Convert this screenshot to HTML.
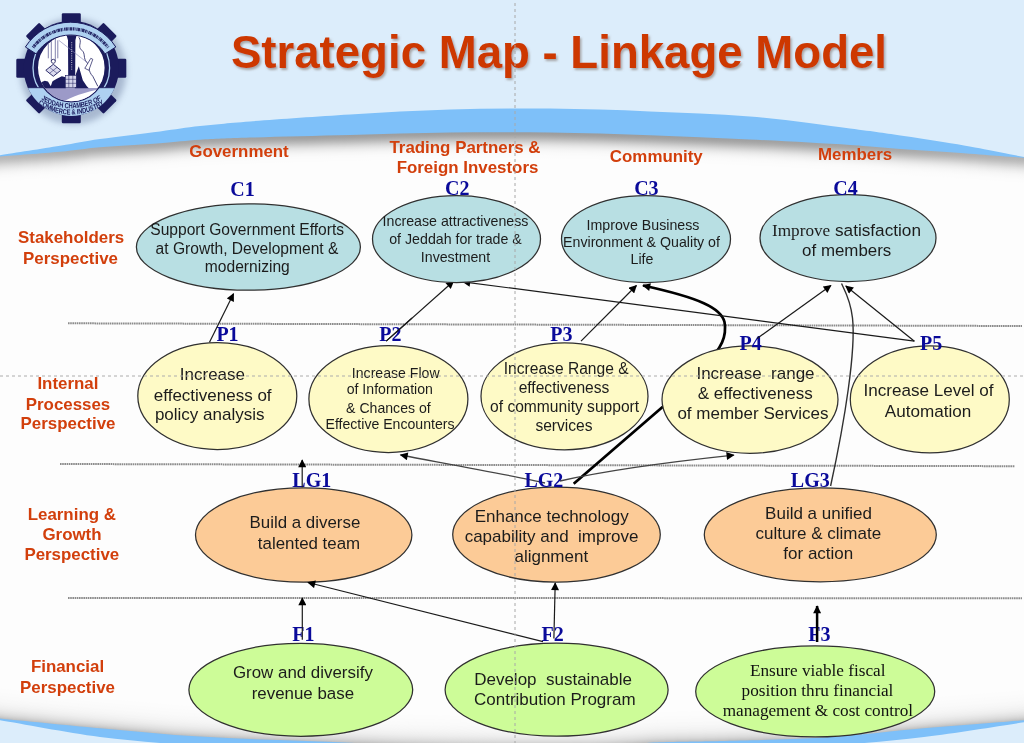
<!DOCTYPE html>
<html><head><meta charset="utf-8"><title>Strategic Map - Linkage Model</title>
<style>
html,body{margin:0;padding:0;background:#fff;width:1024px;height:743px;overflow:hidden}
svg{display:block;will-change:transform}
svg{font-family:"Liberation Sans",sans-serif}
</style></head><body>
<svg width="1024" height="743" viewBox="0 0 1024 743">
<defs>
 <linearGradient id="topShadow" x1="0" y1="0" x2="0" y2="1">
  <stop offset="0" stop-color="#9a9a9a" stop-opacity="0.75"/>
  <stop offset="0.35" stop-color="#c8c8c8" stop-opacity="0.5"/>
  <stop offset="1" stop-color="#ffffff" stop-opacity="0"/>
 </linearGradient>
 <linearGradient id="botShadow" x1="0" y1="0" x2="0" y2="1">
  <stop offset="0" stop-color="#ffffff" stop-opacity="0"/>
  <stop offset="0.6" stop-color="#c8c8c8" stop-opacity="0.6"/>
  <stop offset="1" stop-color="#8a8a8a" stop-opacity="0.9"/>
 </linearGradient>
 <filter id="blur3" x="-30%" y="-30%" width="160%" height="160%"><feGaussianBlur stdDeviation="3"/></filter>
 <filter id="blur2" x="-20%" y="-20%" width="140%" height="140%"><feGaussianBlur stdDeviation="2"/></filter>
 <filter id="tshadow" x="-5%" y="-20%" width="110%" height="150%"><feDropShadow dx="1.5" dy="2" stdDeviation="1.2" flood-color="#7a6a60" flood-opacity="0.55"/></filter>
 <marker id="ah" viewBox="0 0 10 10" refX="9" refY="5" markerWidth="9" markerHeight="8" markerUnits="userSpaceOnUse" orient="auto"><path d="M0,0 L10,5 L0,10 z" fill="#000"/></marker>
 <marker id="ahg" viewBox="0 0 10 10" refX="9" refY="5" markerWidth="9" markerHeight="8" markerUnits="userSpaceOnUse" orient="auto"><path d="M0,0 L10,5 L0,10 z" fill="#111"/></marker>
</defs>

<rect x="0" y="0" width="1024" height="743" fill="#fdfdfd"/>
<path d="M-20.00,188.00 C-13.33,187.47 -13.33,187.45 0.00,186.40 C13.33,185.35 43.33,183.23 60.00,181.70 C76.67,180.17 83.33,178.62 100.00,177.20 C116.67,175.78 143.33,174.43 160.00,173.20 C176.67,171.97 185.00,170.73 200.00,169.80 C215.00,168.87 225.00,168.40 250.00,167.60 C275.00,166.80 316.67,165.85 350.00,165.00 C383.33,164.15 416.67,162.90 450.00,162.50 C483.33,162.10 516.67,162.15 550.00,162.60 C583.33,163.05 616.67,164.05 650.00,165.20 C683.33,166.35 716.67,167.87 750.00,169.50 C783.33,171.13 824.33,173.37 850.00,175.00 C875.67,176.63 885.00,177.93 904.00,179.30 C923.00,180.67 948.00,182.07 964.00,183.20 C980.00,184.33 990.00,185.33 1000.00,186.10 C1010.00,186.87 1016.67,187.15 1024.00,187.80 C1031.33,188.45 1037.33,189.27 1044.00,190.00 L1044,0 L-20,0 Z" fill="url(#sg30)"/>
<path d="M-20.00,187.00 C-13.33,186.47 -13.33,186.45 0.00,185.40 C13.33,184.35 43.33,182.23 60.00,180.70 C76.67,179.17 83.33,177.62 100.00,176.20 C116.67,174.78 143.33,173.43 160.00,172.20 C176.67,170.97 185.00,169.73 200.00,168.80 C215.00,167.87 225.00,167.40 250.00,166.60 C275.00,165.80 316.67,164.85 350.00,164.00 C383.33,163.15 416.67,161.90 450.00,161.50 C483.33,161.10 516.67,161.15 550.00,161.60 C583.33,162.05 616.67,163.05 650.00,164.20 C683.33,165.35 716.67,166.87 750.00,168.50 C783.33,170.13 824.33,172.37 850.00,174.00 C875.67,175.63 885.00,176.93 904.00,178.30 C923.00,179.67 948.00,181.07 964.00,182.20 C980.00,183.33 990.00,184.33 1000.00,185.10 C1010.00,185.87 1016.67,186.15 1024.00,186.80 C1031.33,187.45 1037.33,188.27 1044.00,189.00 L1044,0 L-20,0 Z" fill="url(#sg29)"/>
<path d="M-20.00,186.00 C-13.33,185.47 -13.33,185.45 0.00,184.40 C13.33,183.35 43.33,181.23 60.00,179.70 C76.67,178.17 83.33,176.62 100.00,175.20 C116.67,173.78 143.33,172.43 160.00,171.20 C176.67,169.97 185.00,168.73 200.00,167.80 C215.00,166.87 225.00,166.40 250.00,165.60 C275.00,164.80 316.67,163.85 350.00,163.00 C383.33,162.15 416.67,160.90 450.00,160.50 C483.33,160.10 516.67,160.15 550.00,160.60 C583.33,161.05 616.67,162.05 650.00,163.20 C683.33,164.35 716.67,165.87 750.00,167.50 C783.33,169.13 824.33,171.37 850.00,173.00 C875.67,174.63 885.00,175.93 904.00,177.30 C923.00,178.67 948.00,180.07 964.00,181.20 C980.00,182.33 990.00,183.33 1000.00,184.10 C1010.00,184.87 1016.67,185.15 1024.00,185.80 C1031.33,186.45 1037.33,187.27 1044.00,188.00 L1044,0 L-20,0 Z" fill="url(#sg28)"/>
<path d="M-20.00,185.00 C-13.33,184.47 -13.33,184.45 0.00,183.40 C13.33,182.35 43.33,180.23 60.00,178.70 C76.67,177.17 83.33,175.62 100.00,174.20 C116.67,172.78 143.33,171.43 160.00,170.20 C176.67,168.97 185.00,167.73 200.00,166.80 C215.00,165.87 225.00,165.40 250.00,164.60 C275.00,163.80 316.67,162.85 350.00,162.00 C383.33,161.15 416.67,159.90 450.00,159.50 C483.33,159.10 516.67,159.15 550.00,159.60 C583.33,160.05 616.67,161.05 650.00,162.20 C683.33,163.35 716.67,164.87 750.00,166.50 C783.33,168.13 824.33,170.37 850.00,172.00 C875.67,173.63 885.00,174.93 904.00,176.30 C923.00,177.67 948.00,179.07 964.00,180.20 C980.00,181.33 990.00,182.33 1000.00,183.10 C1010.00,183.87 1016.67,184.15 1024.00,184.80 C1031.33,185.45 1037.33,186.27 1044.00,187.00 L1044,0 L-20,0 Z" fill="url(#sg27)"/>
<path d="M-20.00,184.00 C-13.33,183.47 -13.33,183.45 0.00,182.40 C13.33,181.35 43.33,179.23 60.00,177.70 C76.67,176.17 83.33,174.62 100.00,173.20 C116.67,171.78 143.33,170.43 160.00,169.20 C176.67,167.97 185.00,166.73 200.00,165.80 C215.00,164.87 225.00,164.40 250.00,163.60 C275.00,162.80 316.67,161.85 350.00,161.00 C383.33,160.15 416.67,158.90 450.00,158.50 C483.33,158.10 516.67,158.15 550.00,158.60 C583.33,159.05 616.67,160.05 650.00,161.20 C683.33,162.35 716.67,163.87 750.00,165.50 C783.33,167.13 824.33,169.37 850.00,171.00 C875.67,172.63 885.00,173.93 904.00,175.30 C923.00,176.67 948.00,178.07 964.00,179.20 C980.00,180.33 990.00,181.33 1000.00,182.10 C1010.00,182.87 1016.67,183.15 1024.00,183.80 C1031.33,184.45 1037.33,185.27 1044.00,186.00 L1044,0 L-20,0 Z" fill="url(#sg26)"/>
<path d="M-20.00,183.00 C-13.33,182.47 -13.33,182.45 0.00,181.40 C13.33,180.35 43.33,178.23 60.00,176.70 C76.67,175.17 83.33,173.62 100.00,172.20 C116.67,170.78 143.33,169.43 160.00,168.20 C176.67,166.97 185.00,165.73 200.00,164.80 C215.00,163.87 225.00,163.40 250.00,162.60 C275.00,161.80 316.67,160.85 350.00,160.00 C383.33,159.15 416.67,157.90 450.00,157.50 C483.33,157.10 516.67,157.15 550.00,157.60 C583.33,158.05 616.67,159.05 650.00,160.20 C683.33,161.35 716.67,162.87 750.00,164.50 C783.33,166.13 824.33,168.37 850.00,170.00 C875.67,171.63 885.00,172.93 904.00,174.30 C923.00,175.67 948.00,177.07 964.00,178.20 C980.00,179.33 990.00,180.33 1000.00,181.10 C1010.00,181.87 1016.67,182.15 1024.00,182.80 C1031.33,183.45 1037.33,184.27 1044.00,185.00 L1044,0 L-20,0 Z" fill="url(#sg25)"/>
<path d="M-20.00,182.00 C-13.33,181.47 -13.33,181.45 0.00,180.40 C13.33,179.35 43.33,177.23 60.00,175.70 C76.67,174.17 83.33,172.62 100.00,171.20 C116.67,169.78 143.33,168.43 160.00,167.20 C176.67,165.97 185.00,164.73 200.00,163.80 C215.00,162.87 225.00,162.40 250.00,161.60 C275.00,160.80 316.67,159.85 350.00,159.00 C383.33,158.15 416.67,156.90 450.00,156.50 C483.33,156.10 516.67,156.15 550.00,156.60 C583.33,157.05 616.67,158.05 650.00,159.20 C683.33,160.35 716.67,161.87 750.00,163.50 C783.33,165.13 824.33,167.37 850.00,169.00 C875.67,170.63 885.00,171.93 904.00,173.30 C923.00,174.67 948.00,176.07 964.00,177.20 C980.00,178.33 990.00,179.33 1000.00,180.10 C1010.00,180.87 1016.67,181.15 1024.00,181.80 C1031.33,182.45 1037.33,183.27 1044.00,184.00 L1044,0 L-20,0 Z" fill="url(#sg24)"/>
<path d="M-20.00,181.00 C-13.33,180.47 -13.33,180.45 0.00,179.40 C13.33,178.35 43.33,176.23 60.00,174.70 C76.67,173.17 83.33,171.62 100.00,170.20 C116.67,168.78 143.33,167.43 160.00,166.20 C176.67,164.97 185.00,163.73 200.00,162.80 C215.00,161.87 225.00,161.40 250.00,160.60 C275.00,159.80 316.67,158.85 350.00,158.00 C383.33,157.15 416.67,155.90 450.00,155.50 C483.33,155.10 516.67,155.15 550.00,155.60 C583.33,156.05 616.67,157.05 650.00,158.20 C683.33,159.35 716.67,160.87 750.00,162.50 C783.33,164.13 824.33,166.37 850.00,168.00 C875.67,169.63 885.00,170.93 904.00,172.30 C923.00,173.67 948.00,175.07 964.00,176.20 C980.00,177.33 990.00,178.33 1000.00,179.10 C1010.00,179.87 1016.67,180.15 1024.00,180.80 C1031.33,181.45 1037.33,182.27 1044.00,183.00 L1044,0 L-20,0 Z" fill="url(#sg23)"/>
<path d="M-20.00,180.00 C-13.33,179.47 -13.33,179.45 0.00,178.40 C13.33,177.35 43.33,175.23 60.00,173.70 C76.67,172.17 83.33,170.62 100.00,169.20 C116.67,167.78 143.33,166.43 160.00,165.20 C176.67,163.97 185.00,162.73 200.00,161.80 C215.00,160.87 225.00,160.40 250.00,159.60 C275.00,158.80 316.67,157.85 350.00,157.00 C383.33,156.15 416.67,154.90 450.00,154.50 C483.33,154.10 516.67,154.15 550.00,154.60 C583.33,155.05 616.67,156.05 650.00,157.20 C683.33,158.35 716.67,159.87 750.00,161.50 C783.33,163.13 824.33,165.37 850.00,167.00 C875.67,168.63 885.00,169.93 904.00,171.30 C923.00,172.67 948.00,174.07 964.00,175.20 C980.00,176.33 990.00,177.33 1000.00,178.10 C1010.00,178.87 1016.67,179.15 1024.00,179.80 C1031.33,180.45 1037.33,181.27 1044.00,182.00 L1044,0 L-20,0 Z" fill="url(#sg22)"/>
<path d="M-20.00,179.00 C-13.33,178.47 -13.33,178.45 0.00,177.40 C13.33,176.35 43.33,174.23 60.00,172.70 C76.67,171.17 83.33,169.62 100.00,168.20 C116.67,166.78 143.33,165.43 160.00,164.20 C176.67,162.97 185.00,161.73 200.00,160.80 C215.00,159.87 225.00,159.40 250.00,158.60 C275.00,157.80 316.67,156.85 350.00,156.00 C383.33,155.15 416.67,153.90 450.00,153.50 C483.33,153.10 516.67,153.15 550.00,153.60 C583.33,154.05 616.67,155.05 650.00,156.20 C683.33,157.35 716.67,158.87 750.00,160.50 C783.33,162.13 824.33,164.37 850.00,166.00 C875.67,167.63 885.00,168.93 904.00,170.30 C923.00,171.67 948.00,173.07 964.00,174.20 C980.00,175.33 990.00,176.33 1000.00,177.10 C1010.00,177.87 1016.67,178.15 1024.00,178.80 C1031.33,179.45 1037.33,180.27 1044.00,181.00 L1044,0 L-20,0 Z" fill="url(#sg21)"/>
<path d="M-20.00,178.00 C-13.33,177.47 -13.33,177.45 0.00,176.40 C13.33,175.35 43.33,173.23 60.00,171.70 C76.67,170.17 83.33,168.62 100.00,167.20 C116.67,165.78 143.33,164.43 160.00,163.20 C176.67,161.97 185.00,160.73 200.00,159.80 C215.00,158.87 225.00,158.40 250.00,157.60 C275.00,156.80 316.67,155.85 350.00,155.00 C383.33,154.15 416.67,152.90 450.00,152.50 C483.33,152.10 516.67,152.15 550.00,152.60 C583.33,153.05 616.67,154.05 650.00,155.20 C683.33,156.35 716.67,157.87 750.00,159.50 C783.33,161.13 824.33,163.37 850.00,165.00 C875.67,166.63 885.00,167.93 904.00,169.30 C923.00,170.67 948.00,172.07 964.00,173.20 C980.00,174.33 990.00,175.33 1000.00,176.10 C1010.00,176.87 1016.67,177.15 1024.00,177.80 C1031.33,178.45 1037.33,179.27 1044.00,180.00 L1044,0 L-20,0 Z" fill="url(#sg20)"/>
<path d="M-20.00,177.00 C-13.33,176.47 -13.33,176.45 0.00,175.40 C13.33,174.35 43.33,172.23 60.00,170.70 C76.67,169.17 83.33,167.62 100.00,166.20 C116.67,164.78 143.33,163.43 160.00,162.20 C176.67,160.97 185.00,159.73 200.00,158.80 C215.00,157.87 225.00,157.40 250.00,156.60 C275.00,155.80 316.67,154.85 350.00,154.00 C383.33,153.15 416.67,151.90 450.00,151.50 C483.33,151.10 516.67,151.15 550.00,151.60 C583.33,152.05 616.67,153.05 650.00,154.20 C683.33,155.35 716.67,156.87 750.00,158.50 C783.33,160.13 824.33,162.37 850.00,164.00 C875.67,165.63 885.00,166.93 904.00,168.30 C923.00,169.67 948.00,171.07 964.00,172.20 C980.00,173.33 990.00,174.33 1000.00,175.10 C1010.00,175.87 1016.67,176.15 1024.00,176.80 C1031.33,177.45 1037.33,178.27 1044.00,179.00 L1044,0 L-20,0 Z" fill="url(#sg19)"/>
<path d="M-20.00,176.00 C-13.33,175.47 -13.33,175.45 0.00,174.40 C13.33,173.35 43.33,171.23 60.00,169.70 C76.67,168.17 83.33,166.62 100.00,165.20 C116.67,163.78 143.33,162.43 160.00,161.20 C176.67,159.97 185.00,158.73 200.00,157.80 C215.00,156.87 225.00,156.40 250.00,155.60 C275.00,154.80 316.67,153.85 350.00,153.00 C383.33,152.15 416.67,150.90 450.00,150.50 C483.33,150.10 516.67,150.15 550.00,150.60 C583.33,151.05 616.67,152.05 650.00,153.20 C683.33,154.35 716.67,155.87 750.00,157.50 C783.33,159.13 824.33,161.37 850.00,163.00 C875.67,164.63 885.00,165.93 904.00,167.30 C923.00,168.67 948.00,170.07 964.00,171.20 C980.00,172.33 990.00,173.33 1000.00,174.10 C1010.00,174.87 1016.67,175.15 1024.00,175.80 C1031.33,176.45 1037.33,177.27 1044.00,178.00 L1044,0 L-20,0 Z" fill="url(#sg18)"/>
<path d="M-20.00,175.00 C-13.33,174.47 -13.33,174.45 0.00,173.40 C13.33,172.35 43.33,170.23 60.00,168.70 C76.67,167.17 83.33,165.62 100.00,164.20 C116.67,162.78 143.33,161.43 160.00,160.20 C176.67,158.97 185.00,157.73 200.00,156.80 C215.00,155.87 225.00,155.40 250.00,154.60 C275.00,153.80 316.67,152.85 350.00,152.00 C383.33,151.15 416.67,149.90 450.00,149.50 C483.33,149.10 516.67,149.15 550.00,149.60 C583.33,150.05 616.67,151.05 650.00,152.20 C683.33,153.35 716.67,154.87 750.00,156.50 C783.33,158.13 824.33,160.37 850.00,162.00 C875.67,163.63 885.00,164.93 904.00,166.30 C923.00,167.67 948.00,169.07 964.00,170.20 C980.00,171.33 990.00,172.33 1000.00,173.10 C1010.00,173.87 1016.67,174.15 1024.00,174.80 C1031.33,175.45 1037.33,176.27 1044.00,177.00 L1044,0 L-20,0 Z" fill="url(#sg17)"/>
<path d="M-20.00,174.00 C-13.33,173.47 -13.33,173.45 0.00,172.40 C13.33,171.35 43.33,169.23 60.00,167.70 C76.67,166.17 83.33,164.62 100.00,163.20 C116.67,161.78 143.33,160.43 160.00,159.20 C176.67,157.97 185.00,156.73 200.00,155.80 C215.00,154.87 225.00,154.40 250.00,153.60 C275.00,152.80 316.67,151.85 350.00,151.00 C383.33,150.15 416.67,148.90 450.00,148.50 C483.33,148.10 516.67,148.15 550.00,148.60 C583.33,149.05 616.67,150.05 650.00,151.20 C683.33,152.35 716.67,153.87 750.00,155.50 C783.33,157.13 824.33,159.37 850.00,161.00 C875.67,162.63 885.00,163.93 904.00,165.30 C923.00,166.67 948.00,168.07 964.00,169.20 C980.00,170.33 990.00,171.33 1000.00,172.10 C1010.00,172.87 1016.67,173.15 1024.00,173.80 C1031.33,174.45 1037.33,175.27 1044.00,176.00 L1044,0 L-20,0 Z" fill="url(#sg16)"/>
<path d="M-20.00,173.00 C-13.33,172.47 -13.33,172.45 0.00,171.40 C13.33,170.35 43.33,168.23 60.00,166.70 C76.67,165.17 83.33,163.62 100.00,162.20 C116.67,160.78 143.33,159.43 160.00,158.20 C176.67,156.97 185.00,155.73 200.00,154.80 C215.00,153.87 225.00,153.40 250.00,152.60 C275.00,151.80 316.67,150.85 350.00,150.00 C383.33,149.15 416.67,147.90 450.00,147.50 C483.33,147.10 516.67,147.15 550.00,147.60 C583.33,148.05 616.67,149.05 650.00,150.20 C683.33,151.35 716.67,152.87 750.00,154.50 C783.33,156.13 824.33,158.37 850.00,160.00 C875.67,161.63 885.00,162.93 904.00,164.30 C923.00,165.67 948.00,167.07 964.00,168.20 C980.00,169.33 990.00,170.33 1000.00,171.10 C1010.00,171.87 1016.67,172.15 1024.00,172.80 C1031.33,173.45 1037.33,174.27 1044.00,175.00 L1044,0 L-20,0 Z" fill="url(#sg15)"/>
<path d="M-20.00,172.00 C-13.33,171.47 -13.33,171.45 0.00,170.40 C13.33,169.35 43.33,167.23 60.00,165.70 C76.67,164.17 83.33,162.62 100.00,161.20 C116.67,159.78 143.33,158.43 160.00,157.20 C176.67,155.97 185.00,154.73 200.00,153.80 C215.00,152.87 225.00,152.40 250.00,151.60 C275.00,150.80 316.67,149.85 350.00,149.00 C383.33,148.15 416.67,146.90 450.00,146.50 C483.33,146.10 516.67,146.15 550.00,146.60 C583.33,147.05 616.67,148.05 650.00,149.20 C683.33,150.35 716.67,151.87 750.00,153.50 C783.33,155.13 824.33,157.37 850.00,159.00 C875.67,160.63 885.00,161.93 904.00,163.30 C923.00,164.67 948.00,166.07 964.00,167.20 C980.00,168.33 990.00,169.33 1000.00,170.10 C1010.00,170.87 1016.67,171.15 1024.00,171.80 C1031.33,172.45 1037.33,173.27 1044.00,174.00 L1044,0 L-20,0 Z" fill="url(#sg14)"/>
<path d="M-20.00,171.00 C-13.33,170.47 -13.33,170.45 0.00,169.40 C13.33,168.35 43.33,166.23 60.00,164.70 C76.67,163.17 83.33,161.62 100.00,160.20 C116.67,158.78 143.33,157.43 160.00,156.20 C176.67,154.97 185.00,153.73 200.00,152.80 C215.00,151.87 225.00,151.40 250.00,150.60 C275.00,149.80 316.67,148.85 350.00,148.00 C383.33,147.15 416.67,145.90 450.00,145.50 C483.33,145.10 516.67,145.15 550.00,145.60 C583.33,146.05 616.67,147.05 650.00,148.20 C683.33,149.35 716.67,150.87 750.00,152.50 C783.33,154.13 824.33,156.37 850.00,158.00 C875.67,159.63 885.00,160.93 904.00,162.30 C923.00,163.67 948.00,165.07 964.00,166.20 C980.00,167.33 990.00,168.33 1000.00,169.10 C1010.00,169.87 1016.67,170.15 1024.00,170.80 C1031.33,171.45 1037.33,172.27 1044.00,173.00 L1044,0 L-20,0 Z" fill="url(#sg13)"/>
<path d="M-20.00,170.00 C-13.33,169.47 -13.33,169.45 0.00,168.40 C13.33,167.35 43.33,165.23 60.00,163.70 C76.67,162.17 83.33,160.62 100.00,159.20 C116.67,157.78 143.33,156.43 160.00,155.20 C176.67,153.97 185.00,152.73 200.00,151.80 C215.00,150.87 225.00,150.40 250.00,149.60 C275.00,148.80 316.67,147.85 350.00,147.00 C383.33,146.15 416.67,144.90 450.00,144.50 C483.33,144.10 516.67,144.15 550.00,144.60 C583.33,145.05 616.67,146.05 650.00,147.20 C683.33,148.35 716.67,149.87 750.00,151.50 C783.33,153.13 824.33,155.37 850.00,157.00 C875.67,158.63 885.00,159.93 904.00,161.30 C923.00,162.67 948.00,164.07 964.00,165.20 C980.00,166.33 990.00,167.33 1000.00,168.10 C1010.00,168.87 1016.67,169.15 1024.00,169.80 C1031.33,170.45 1037.33,171.27 1044.00,172.00 L1044,0 L-20,0 Z" fill="url(#sg12)"/>
<path d="M-20.00,169.00 C-13.33,168.47 -13.33,168.45 0.00,167.40 C13.33,166.35 43.33,164.23 60.00,162.70 C76.67,161.17 83.33,159.62 100.00,158.20 C116.67,156.78 143.33,155.43 160.00,154.20 C176.67,152.97 185.00,151.73 200.00,150.80 C215.00,149.87 225.00,149.40 250.00,148.60 C275.00,147.80 316.67,146.85 350.00,146.00 C383.33,145.15 416.67,143.90 450.00,143.50 C483.33,143.10 516.67,143.15 550.00,143.60 C583.33,144.05 616.67,145.05 650.00,146.20 C683.33,147.35 716.67,148.87 750.00,150.50 C783.33,152.13 824.33,154.37 850.00,156.00 C875.67,157.63 885.00,158.93 904.00,160.30 C923.00,161.67 948.00,163.07 964.00,164.20 C980.00,165.33 990.00,166.33 1000.00,167.10 C1010.00,167.87 1016.67,168.15 1024.00,168.80 C1031.33,169.45 1037.33,170.27 1044.00,171.00 L1044,0 L-20,0 Z" fill="url(#sg11)"/>
<path d="M-20.00,168.00 C-13.33,167.47 -13.33,167.45 0.00,166.40 C13.33,165.35 43.33,163.23 60.00,161.70 C76.67,160.17 83.33,158.62 100.00,157.20 C116.67,155.78 143.33,154.43 160.00,153.20 C176.67,151.97 185.00,150.73 200.00,149.80 C215.00,148.87 225.00,148.40 250.00,147.60 C275.00,146.80 316.67,145.85 350.00,145.00 C383.33,144.15 416.67,142.90 450.00,142.50 C483.33,142.10 516.67,142.15 550.00,142.60 C583.33,143.05 616.67,144.05 650.00,145.20 C683.33,146.35 716.67,147.87 750.00,149.50 C783.33,151.13 824.33,153.37 850.00,155.00 C875.67,156.63 885.00,157.93 904.00,159.30 C923.00,160.67 948.00,162.07 964.00,163.20 C980.00,164.33 990.00,165.33 1000.00,166.10 C1010.00,166.87 1016.67,167.15 1024.00,167.80 C1031.33,168.45 1037.33,169.27 1044.00,170.00 L1044,0 L-20,0 Z" fill="url(#sg10)"/>
<path d="M-20.00,167.00 C-13.33,166.47 -13.33,166.45 0.00,165.40 C13.33,164.35 43.33,162.23 60.00,160.70 C76.67,159.17 83.33,157.62 100.00,156.20 C116.67,154.78 143.33,153.43 160.00,152.20 C176.67,150.97 185.00,149.73 200.00,148.80 C215.00,147.87 225.00,147.40 250.00,146.60 C275.00,145.80 316.67,144.85 350.00,144.00 C383.33,143.15 416.67,141.90 450.00,141.50 C483.33,141.10 516.67,141.15 550.00,141.60 C583.33,142.05 616.67,143.05 650.00,144.20 C683.33,145.35 716.67,146.87 750.00,148.50 C783.33,150.13 824.33,152.37 850.00,154.00 C875.67,155.63 885.00,156.93 904.00,158.30 C923.00,159.67 948.00,161.07 964.00,162.20 C980.00,163.33 990.00,164.33 1000.00,165.10 C1010.00,165.87 1016.67,166.15 1024.00,166.80 C1031.33,167.45 1037.33,168.27 1044.00,169.00 L1044,0 L-20,0 Z" fill="url(#sg9)"/>
<path d="M-20.00,166.00 C-13.33,165.47 -13.33,165.45 0.00,164.40 C13.33,163.35 43.33,161.23 60.00,159.70 C76.67,158.17 83.33,156.62 100.00,155.20 C116.67,153.78 143.33,152.43 160.00,151.20 C176.67,149.97 185.00,148.73 200.00,147.80 C215.00,146.87 225.00,146.40 250.00,145.60 C275.00,144.80 316.67,143.85 350.00,143.00 C383.33,142.15 416.67,140.90 450.00,140.50 C483.33,140.10 516.67,140.15 550.00,140.60 C583.33,141.05 616.67,142.05 650.00,143.20 C683.33,144.35 716.67,145.87 750.00,147.50 C783.33,149.13 824.33,151.37 850.00,153.00 C875.67,154.63 885.00,155.93 904.00,157.30 C923.00,158.67 948.00,160.07 964.00,161.20 C980.00,162.33 990.00,163.33 1000.00,164.10 C1010.00,164.87 1016.67,165.15 1024.00,165.80 C1031.33,166.45 1037.33,167.27 1044.00,168.00 L1044,0 L-20,0 Z" fill="url(#sg8)"/>
<path d="M-20.00,165.00 C-13.33,164.47 -13.33,164.45 0.00,163.40 C13.33,162.35 43.33,160.23 60.00,158.70 C76.67,157.17 83.33,155.62 100.00,154.20 C116.67,152.78 143.33,151.43 160.00,150.20 C176.67,148.97 185.00,147.73 200.00,146.80 C215.00,145.87 225.00,145.40 250.00,144.60 C275.00,143.80 316.67,142.85 350.00,142.00 C383.33,141.15 416.67,139.90 450.00,139.50 C483.33,139.10 516.67,139.15 550.00,139.60 C583.33,140.05 616.67,141.05 650.00,142.20 C683.33,143.35 716.67,144.87 750.00,146.50 C783.33,148.13 824.33,150.37 850.00,152.00 C875.67,153.63 885.00,154.93 904.00,156.30 C923.00,157.67 948.00,159.07 964.00,160.20 C980.00,161.33 990.00,162.33 1000.00,163.10 C1010.00,163.87 1016.67,164.15 1024.00,164.80 C1031.33,165.45 1037.33,166.27 1044.00,167.00 L1044,0 L-20,0 Z" fill="url(#sg7)"/>
<path d="M-20.00,164.00 C-13.33,163.47 -13.33,163.45 0.00,162.40 C13.33,161.35 43.33,159.23 60.00,157.70 C76.67,156.17 83.33,154.62 100.00,153.20 C116.67,151.78 143.33,150.43 160.00,149.20 C176.67,147.97 185.00,146.73 200.00,145.80 C215.00,144.87 225.00,144.40 250.00,143.60 C275.00,142.80 316.67,141.85 350.00,141.00 C383.33,140.15 416.67,138.90 450.00,138.50 C483.33,138.10 516.67,138.15 550.00,138.60 C583.33,139.05 616.67,140.05 650.00,141.20 C683.33,142.35 716.67,143.87 750.00,145.50 C783.33,147.13 824.33,149.37 850.00,151.00 C875.67,152.63 885.00,153.93 904.00,155.30 C923.00,156.67 948.00,158.07 964.00,159.20 C980.00,160.33 990.00,161.33 1000.00,162.10 C1010.00,162.87 1016.67,163.15 1024.00,163.80 C1031.33,164.45 1037.33,165.27 1044.00,166.00 L1044,0 L-20,0 Z" fill="url(#sg6)"/>
<path d="M-20.00,163.00 C-13.33,162.47 -13.33,162.45 0.00,161.40 C13.33,160.35 43.33,158.23 60.00,156.70 C76.67,155.17 83.33,153.62 100.00,152.20 C116.67,150.78 143.33,149.43 160.00,148.20 C176.67,146.97 185.00,145.73 200.00,144.80 C215.00,143.87 225.00,143.40 250.00,142.60 C275.00,141.80 316.67,140.85 350.00,140.00 C383.33,139.15 416.67,137.90 450.00,137.50 C483.33,137.10 516.67,137.15 550.00,137.60 C583.33,138.05 616.67,139.05 650.00,140.20 C683.33,141.35 716.67,142.87 750.00,144.50 C783.33,146.13 824.33,148.37 850.00,150.00 C875.67,151.63 885.00,152.93 904.00,154.30 C923.00,155.67 948.00,157.07 964.00,158.20 C980.00,159.33 990.00,160.33 1000.00,161.10 C1010.00,161.87 1016.67,162.15 1024.00,162.80 C1031.33,163.45 1037.33,164.27 1044.00,165.00 L1044,0 L-20,0 Z" fill="url(#sg5)"/>
<path d="M-20.00,162.00 C-13.33,161.47 -13.33,161.45 0.00,160.40 C13.33,159.35 43.33,157.23 60.00,155.70 C76.67,154.17 83.33,152.62 100.00,151.20 C116.67,149.78 143.33,148.43 160.00,147.20 C176.67,145.97 185.00,144.73 200.00,143.80 C215.00,142.87 225.00,142.40 250.00,141.60 C275.00,140.80 316.67,139.85 350.00,139.00 C383.33,138.15 416.67,136.90 450.00,136.50 C483.33,136.10 516.67,136.15 550.00,136.60 C583.33,137.05 616.67,138.05 650.00,139.20 C683.33,140.35 716.67,141.87 750.00,143.50 C783.33,145.13 824.33,147.37 850.00,149.00 C875.67,150.63 885.00,151.93 904.00,153.30 C923.00,154.67 948.00,156.07 964.00,157.20 C980.00,158.33 990.00,159.33 1000.00,160.10 C1010.00,160.87 1016.67,161.15 1024.00,161.80 C1031.33,162.45 1037.33,163.27 1044.00,164.00 L1044,0 L-20,0 Z" fill="url(#sg4)"/>
<path d="M-20.00,161.00 C-13.33,160.47 -13.33,160.45 0.00,159.40 C13.33,158.35 43.33,156.23 60.00,154.70 C76.67,153.17 83.33,151.62 100.00,150.20 C116.67,148.78 143.33,147.43 160.00,146.20 C176.67,144.97 185.00,143.73 200.00,142.80 C215.00,141.87 225.00,141.40 250.00,140.60 C275.00,139.80 316.67,138.85 350.00,138.00 C383.33,137.15 416.67,135.90 450.00,135.50 C483.33,135.10 516.67,135.15 550.00,135.60 C583.33,136.05 616.67,137.05 650.00,138.20 C683.33,139.35 716.67,140.87 750.00,142.50 C783.33,144.13 824.33,146.37 850.00,148.00 C875.67,149.63 885.00,150.93 904.00,152.30 C923.00,153.67 948.00,155.07 964.00,156.20 C980.00,157.33 990.00,158.33 1000.00,159.10 C1010.00,159.87 1016.67,160.15 1024.00,160.80 C1031.33,161.45 1037.33,162.27 1044.00,163.00 L1044,0 L-20,0 Z" fill="url(#sg3)"/>
<path d="M-20.00,160.00 C-13.33,159.47 -13.33,159.45 0.00,158.40 C13.33,157.35 43.33,155.23 60.00,153.70 C76.67,152.17 83.33,150.62 100.00,149.20 C116.67,147.78 143.33,146.43 160.00,145.20 C176.67,143.97 185.00,142.73 200.00,141.80 C215.00,140.87 225.00,140.40 250.00,139.60 C275.00,138.80 316.67,137.85 350.00,137.00 C383.33,136.15 416.67,134.90 450.00,134.50 C483.33,134.10 516.67,134.15 550.00,134.60 C583.33,135.05 616.67,136.05 650.00,137.20 C683.33,138.35 716.67,139.87 750.00,141.50 C783.33,143.13 824.33,145.37 850.00,147.00 C875.67,148.63 885.00,149.93 904.00,151.30 C923.00,152.67 948.00,154.07 964.00,155.20 C980.00,156.33 990.00,157.33 1000.00,158.10 C1010.00,158.87 1016.67,159.15 1024.00,159.80 C1031.33,160.45 1037.33,161.27 1044.00,162.00 L1044,0 L-20,0 Z" fill="url(#sg2)"/>
<path d="M-20.00,159.00 C-13.33,158.47 -13.33,158.45 0.00,157.40 C13.33,156.35 43.33,154.23 60.00,152.70 C76.67,151.17 83.33,149.62 100.00,148.20 C116.67,146.78 143.33,145.43 160.00,144.20 C176.67,142.97 185.00,141.73 200.00,140.80 C215.00,139.87 225.00,139.40 250.00,138.60 C275.00,137.80 316.67,136.85 350.00,136.00 C383.33,135.15 416.67,133.90 450.00,133.50 C483.33,133.10 516.67,133.15 550.00,133.60 C583.33,134.05 616.67,135.05 650.00,136.20 C683.33,137.35 716.67,138.87 750.00,140.50 C783.33,142.13 824.33,144.37 850.00,146.00 C875.67,147.63 885.00,148.93 904.00,150.30 C923.00,151.67 948.00,153.07 964.00,154.20 C980.00,155.33 990.00,156.33 1000.00,157.10 C1010.00,157.87 1016.67,158.15 1024.00,158.80 C1031.33,159.45 1037.33,160.27 1044.00,161.00 L1044,0 L-20,0 Z" fill="url(#sg1)"/>
<path d="M-20.00,158.00 C-13.33,157.47 -13.33,157.45 0.00,156.40 C13.33,155.35 43.33,153.23 60.00,151.70 C76.67,150.17 83.33,148.62 100.00,147.20 C116.67,145.78 143.33,144.43 160.00,143.20 C176.67,141.97 185.00,140.73 200.00,139.80 C215.00,138.87 225.00,138.40 250.00,137.60 C275.00,136.80 316.67,135.85 350.00,135.00 C383.33,134.15 416.67,132.90 450.00,132.50 C483.33,132.10 516.67,132.15 550.00,132.60 C583.33,133.05 616.67,134.05 650.00,135.20 C683.33,136.35 716.67,137.87 750.00,139.50 C783.33,141.13 824.33,143.37 850.00,145.00 C875.67,146.63 885.00,147.93 904.00,149.30 C923.00,150.67 948.00,152.07 964.00,153.20 C980.00,154.33 990.00,155.33 1000.00,156.10 C1010.00,156.87 1016.67,157.15 1024.00,157.80 C1031.33,158.45 1037.33,159.27 1044.00,160.00 L1044,0 L-20,0 Z" fill="url(#sg0)"/>
<defs><linearGradient id="sg30" gradientUnits="userSpaceOnUse" x1="0" y1="0" x2="1024" y2="0"><stop offset="0.000" stop-color="rgb(253,253,253)"/><stop offset="0.098" stop-color="rgb(253,253,253)"/><stop offset="0.293" stop-color="rgb(253,253,253)"/><stop offset="0.586" stop-color="rgb(253,253,253)"/><stop offset="0.830" stop-color="rgb(253,253,253)"/><stop offset="1.000" stop-color="rgb(253,253,253)"/></linearGradient><linearGradient id="sg29" gradientUnits="userSpaceOnUse" x1="0" y1="0" x2="1024" y2="0"><stop offset="0.000" stop-color="rgb(253,253,253)"/><stop offset="0.098" stop-color="rgb(253,253,253)"/><stop offset="0.293" stop-color="rgb(253,253,253)"/><stop offset="0.586" stop-color="rgb(253,253,253)"/><stop offset="0.830" stop-color="rgb(253,253,253)"/><stop offset="1.000" stop-color="rgb(253,253,253)"/></linearGradient><linearGradient id="sg28" gradientUnits="userSpaceOnUse" x1="0" y1="0" x2="1024" y2="0"><stop offset="0.000" stop-color="rgb(253,253,253)"/><stop offset="0.098" stop-color="rgb(253,253,253)"/><stop offset="0.293" stop-color="rgb(253,253,253)"/><stop offset="0.586" stop-color="rgb(253,253,253)"/><stop offset="0.830" stop-color="rgb(253,253,253)"/><stop offset="1.000" stop-color="rgb(253,253,253)"/></linearGradient><linearGradient id="sg27" gradientUnits="userSpaceOnUse" x1="0" y1="0" x2="1024" y2="0"><stop offset="0.000" stop-color="rgb(253,253,253)"/><stop offset="0.098" stop-color="rgb(253,253,253)"/><stop offset="0.293" stop-color="rgb(253,253,253)"/><stop offset="0.586" stop-color="rgb(253,253,253)"/><stop offset="0.830" stop-color="rgb(253,253,253)"/><stop offset="1.000" stop-color="rgb(253,253,253)"/></linearGradient><linearGradient id="sg26" gradientUnits="userSpaceOnUse" x1="0" y1="0" x2="1024" y2="0"><stop offset="0.000" stop-color="rgb(253,253,253)"/><stop offset="0.098" stop-color="rgb(252,252,252)"/><stop offset="0.293" stop-color="rgb(252,252,252)"/><stop offset="0.586" stop-color="rgb(252,252,252)"/><stop offset="0.830" stop-color="rgb(252,252,252)"/><stop offset="1.000" stop-color="rgb(253,253,253)"/></linearGradient><linearGradient id="sg25" gradientUnits="userSpaceOnUse" x1="0" y1="0" x2="1024" y2="0"><stop offset="0.000" stop-color="rgb(252,252,252)"/><stop offset="0.098" stop-color="rgb(252,252,252)"/><stop offset="0.293" stop-color="rgb(252,252,252)"/><stop offset="0.586" stop-color="rgb(252,252,252)"/><stop offset="0.830" stop-color="rgb(252,252,252)"/><stop offset="1.000" stop-color="rgb(252,252,252)"/></linearGradient><linearGradient id="sg24" gradientUnits="userSpaceOnUse" x1="0" y1="0" x2="1024" y2="0"><stop offset="0.000" stop-color="rgb(252,252,252)"/><stop offset="0.098" stop-color="rgb(252,252,252)"/><stop offset="0.293" stop-color="rgb(252,252,252)"/><stop offset="0.586" stop-color="rgb(252,252,252)"/><stop offset="0.830" stop-color="rgb(252,252,252)"/><stop offset="1.000" stop-color="rgb(252,252,252)"/></linearGradient><linearGradient id="sg23" gradientUnits="userSpaceOnUse" x1="0" y1="0" x2="1024" y2="0"><stop offset="0.000" stop-color="rgb(252,252,252)"/><stop offset="0.098" stop-color="rgb(251,251,251)"/><stop offset="0.293" stop-color="rgb(251,251,251)"/><stop offset="0.586" stop-color="rgb(251,251,251)"/><stop offset="0.830" stop-color="rgb(251,251,251)"/><stop offset="1.000" stop-color="rgb(252,252,252)"/></linearGradient><linearGradient id="sg22" gradientUnits="userSpaceOnUse" x1="0" y1="0" x2="1024" y2="0"><stop offset="0.000" stop-color="rgb(251,251,251)"/><stop offset="0.098" stop-color="rgb(251,251,251)"/><stop offset="0.293" stop-color="rgb(251,251,251)"/><stop offset="0.586" stop-color="rgb(250,250,250)"/><stop offset="0.830" stop-color="rgb(251,251,251)"/><stop offset="1.000" stop-color="rgb(251,251,251)"/></linearGradient><linearGradient id="sg21" gradientUnits="userSpaceOnUse" x1="0" y1="0" x2="1024" y2="0"><stop offset="0.000" stop-color="rgb(250,250,250)"/><stop offset="0.098" stop-color="rgb(250,250,250)"/><stop offset="0.293" stop-color="rgb(250,250,250)"/><stop offset="0.586" stop-color="rgb(250,250,250)"/><stop offset="0.830" stop-color="rgb(250,250,250)"/><stop offset="1.000" stop-color="rgb(250,250,250)"/></linearGradient><linearGradient id="sg20" gradientUnits="userSpaceOnUse" x1="0" y1="0" x2="1024" y2="0"><stop offset="0.000" stop-color="rgb(250,250,250)"/><stop offset="0.098" stop-color="rgb(249,249,249)"/><stop offset="0.293" stop-color="rgb(248,248,248)"/><stop offset="0.586" stop-color="rgb(248,248,248)"/><stop offset="0.830" stop-color="rgb(249,249,249)"/><stop offset="1.000" stop-color="rgb(249,249,249)"/></linearGradient><linearGradient id="sg19" gradientUnits="userSpaceOnUse" x1="0" y1="0" x2="1024" y2="0"><stop offset="0.000" stop-color="rgb(248,248,248)"/><stop offset="0.098" stop-color="rgb(248,248,248)"/><stop offset="0.293" stop-color="rgb(247,247,247)"/><stop offset="0.586" stop-color="rgb(247,247,247)"/><stop offset="0.830" stop-color="rgb(247,247,247)"/><stop offset="1.000" stop-color="rgb(248,248,248)"/></linearGradient><linearGradient id="sg18" gradientUnits="userSpaceOnUse" x1="0" y1="0" x2="1024" y2="0"><stop offset="0.000" stop-color="rgb(247,247,247)"/><stop offset="0.098" stop-color="rgb(246,246,246)"/><stop offset="0.293" stop-color="rgb(245,245,245)"/><stop offset="0.586" stop-color="rgb(245,245,245)"/><stop offset="0.830" stop-color="rgb(245,245,245)"/><stop offset="1.000" stop-color="rgb(247,247,247)"/></linearGradient><linearGradient id="sg17" gradientUnits="userSpaceOnUse" x1="0" y1="0" x2="1024" y2="0"><stop offset="0.000" stop-color="rgb(245,245,245)"/><stop offset="0.098" stop-color="rgb(244,244,244)"/><stop offset="0.293" stop-color="rgb(242,242,242)"/><stop offset="0.586" stop-color="rgb(242,242,242)"/><stop offset="0.830" stop-color="rgb(243,243,243)"/><stop offset="1.000" stop-color="rgb(245,245,245)"/></linearGradient><linearGradient id="sg16" gradientUnits="userSpaceOnUse" x1="0" y1="0" x2="1024" y2="0"><stop offset="0.000" stop-color="rgb(243,243,243)"/><stop offset="0.098" stop-color="rgb(241,241,241)"/><stop offset="0.293" stop-color="rgb(239,239,239)"/><stop offset="0.586" stop-color="rgb(239,239,239)"/><stop offset="0.830" stop-color="rgb(240,240,240)"/><stop offset="1.000" stop-color="rgb(242,242,242)"/></linearGradient><linearGradient id="sg15" gradientUnits="userSpaceOnUse" x1="0" y1="0" x2="1024" y2="0"><stop offset="0.000" stop-color="rgb(240,240,240)"/><stop offset="0.098" stop-color="rgb(238,238,238)"/><stop offset="0.293" stop-color="rgb(236,236,236)"/><stop offset="0.586" stop-color="rgb(235,235,235)"/><stop offset="0.830" stop-color="rgb(237,237,237)"/><stop offset="1.000" stop-color="rgb(240,240,240)"/></linearGradient><linearGradient id="sg14" gradientUnits="userSpaceOnUse" x1="0" y1="0" x2="1024" y2="0"><stop offset="0.000" stop-color="rgb(237,237,237)"/><stop offset="0.098" stop-color="rgb(234,234,234)"/><stop offset="0.293" stop-color="rgb(231,231,231)"/><stop offset="0.586" stop-color="rgb(231,231,231)"/><stop offset="0.830" stop-color="rgb(233,233,233)"/><stop offset="1.000" stop-color="rgb(236,236,236)"/></linearGradient><linearGradient id="sg13" gradientUnits="userSpaceOnUse" x1="0" y1="0" x2="1024" y2="0"><stop offset="0.000" stop-color="rgb(233,233,233)"/><stop offset="0.098" stop-color="rgb(230,230,230)"/><stop offset="0.293" stop-color="rgb(227,227,227)"/><stop offset="0.586" stop-color="rgb(226,226,226)"/><stop offset="0.830" stop-color="rgb(228,228,228)"/><stop offset="1.000" stop-color="rgb(233,233,233)"/></linearGradient><linearGradient id="sg12" gradientUnits="userSpaceOnUse" x1="0" y1="0" x2="1024" y2="0"><stop offset="0.000" stop-color="rgb(229,229,229)"/><stop offset="0.098" stop-color="rgb(225,225,225)"/><stop offset="0.293" stop-color="rgb(221,221,221)"/><stop offset="0.586" stop-color="rgb(220,220,220)"/><stop offset="0.830" stop-color="rgb(223,223,223)"/><stop offset="1.000" stop-color="rgb(228,228,228)"/></linearGradient><linearGradient id="sg11" gradientUnits="userSpaceOnUse" x1="0" y1="0" x2="1024" y2="0"><stop offset="0.000" stop-color="rgb(225,225,225)"/><stop offset="0.098" stop-color="rgb(219,219,219)"/><stop offset="0.293" stop-color="rgb(215,215,215)"/><stop offset="0.586" stop-color="rgb(214,214,214)"/><stop offset="0.830" stop-color="rgb(217,217,217)"/><stop offset="1.000" stop-color="rgb(224,224,224)"/></linearGradient><linearGradient id="sg10" gradientUnits="userSpaceOnUse" x1="0" y1="0" x2="1024" y2="0"><stop offset="0.000" stop-color="rgb(220,220,220)"/><stop offset="0.098" stop-color="rgb(213,213,213)"/><stop offset="0.293" stop-color="rgb(208,208,208)"/><stop offset="0.586" stop-color="rgb(207,207,207)"/><stop offset="0.830" stop-color="rgb(211,211,211)"/><stop offset="1.000" stop-color="rgb(218,218,218)"/></linearGradient><linearGradient id="sg9" gradientUnits="userSpaceOnUse" x1="0" y1="0" x2="1024" y2="0"><stop offset="0.000" stop-color="rgb(215,215,215)"/><stop offset="0.098" stop-color="rgb(207,207,207)"/><stop offset="0.293" stop-color="rgb(201,201,201)"/><stop offset="0.586" stop-color="rgb(200,200,200)"/><stop offset="0.830" stop-color="rgb(204,204,204)"/><stop offset="1.000" stop-color="rgb(213,213,213)"/></linearGradient><linearGradient id="sg8" gradientUnits="userSpaceOnUse" x1="0" y1="0" x2="1024" y2="0"><stop offset="0.000" stop-color="rgb(210,210,210)"/><stop offset="0.098" stop-color="rgb(201,201,201)"/><stop offset="0.293" stop-color="rgb(194,194,194)"/><stop offset="0.586" stop-color="rgb(193,193,193)"/><stop offset="0.830" stop-color="rgb(197,197,197)"/><stop offset="1.000" stop-color="rgb(208,208,208)"/></linearGradient><linearGradient id="sg7" gradientUnits="userSpaceOnUse" x1="0" y1="0" x2="1024" y2="0"><stop offset="0.000" stop-color="rgb(204,204,204)"/><stop offset="0.098" stop-color="rgb(195,195,195)"/><stop offset="0.293" stop-color="rgb(187,187,187)"/><stop offset="0.586" stop-color="rgb(185,185,185)"/><stop offset="0.830" stop-color="rgb(191,191,191)"/><stop offset="1.000" stop-color="rgb(202,202,202)"/></linearGradient><linearGradient id="sg6" gradientUnits="userSpaceOnUse" x1="0" y1="0" x2="1024" y2="0"><stop offset="0.000" stop-color="rgb(199,199,199)"/><stop offset="0.098" stop-color="rgb(189,189,189)"/><stop offset="0.293" stop-color="rgb(181,181,181)"/><stop offset="0.586" stop-color="rgb(178,178,178)"/><stop offset="0.830" stop-color="rgb(184,184,184)"/><stop offset="1.000" stop-color="rgb(197,197,197)"/></linearGradient><linearGradient id="sg5" gradientUnits="userSpaceOnUse" x1="0" y1="0" x2="1024" y2="0"><stop offset="0.000" stop-color="rgb(195,195,195)"/><stop offset="0.098" stop-color="rgb(183,183,183)"/><stop offset="0.293" stop-color="rgb(174,174,174)"/><stop offset="0.586" stop-color="rgb(172,172,172)"/><stop offset="0.830" stop-color="rgb(178,178,178)"/><stop offset="1.000" stop-color="rgb(192,192,192)"/></linearGradient><linearGradient id="sg4" gradientUnits="userSpaceOnUse" x1="0" y1="0" x2="1024" y2="0"><stop offset="0.000" stop-color="rgb(190,190,190)"/><stop offset="0.098" stop-color="rgb(178,178,178)"/><stop offset="0.293" stop-color="rgb(169,169,169)"/><stop offset="0.586" stop-color="rgb(166,166,166)"/><stop offset="0.830" stop-color="rgb(173,173,173)"/><stop offset="1.000" stop-color="rgb(188,188,188)"/></linearGradient><linearGradient id="sg3" gradientUnits="userSpaceOnUse" x1="0" y1="0" x2="1024" y2="0"><stop offset="0.000" stop-color="rgb(187,187,187)"/><stop offset="0.098" stop-color="rgb(174,174,174)"/><stop offset="0.293" stop-color="rgb(164,164,164)"/><stop offset="0.586" stop-color="rgb(161,161,161)"/><stop offset="0.830" stop-color="rgb(169,169,169)"/><stop offset="1.000" stop-color="rgb(184,184,184)"/></linearGradient><linearGradient id="sg2" gradientUnits="userSpaceOnUse" x1="0" y1="0" x2="1024" y2="0"><stop offset="0.000" stop-color="rgb(185,185,185)"/><stop offset="0.098" stop-color="rgb(171,171,171)"/><stop offset="0.293" stop-color="rgb(161,161,161)"/><stop offset="0.586" stop-color="rgb(158,158,158)"/><stop offset="0.830" stop-color="rgb(166,166,166)"/><stop offset="1.000" stop-color="rgb(182,182,182)"/></linearGradient><linearGradient id="sg1" gradientUnits="userSpaceOnUse" x1="0" y1="0" x2="1024" y2="0"><stop offset="0.000" stop-color="rgb(183,183,183)"/><stop offset="0.098" stop-color="rgb(169,169,169)"/><stop offset="0.293" stop-color="rgb(159,159,159)"/><stop offset="0.586" stop-color="rgb(156,156,156)"/><stop offset="0.830" stop-color="rgb(164,164,164)"/><stop offset="1.000" stop-color="rgb(180,180,180)"/></linearGradient><linearGradient id="sg0" gradientUnits="userSpaceOnUse" x1="0" y1="0" x2="1024" y2="0"><stop offset="0.000" stop-color="rgb(182,182,182)"/><stop offset="0.098" stop-color="rgb(169,169,169)"/><stop offset="0.293" stop-color="rgb(158,158,158)"/><stop offset="0.586" stop-color="rgb(155,155,155)"/><stop offset="0.830" stop-color="rgb(163,163,163)"/><stop offset="1.000" stop-color="rgb(180,180,180)"/></linearGradient></defs>
<path d="M-20.00,158.00 C-13.33,157.47 -13.33,157.45 0.00,156.40 C13.33,155.35 43.33,153.23 60.00,151.70 C76.67,150.17 83.33,148.62 100.00,147.20 C116.67,145.78 143.33,144.43 160.00,143.20 C176.67,141.97 185.00,140.73 200.00,139.80 C215.00,138.87 225.00,138.40 250.00,137.60 C275.00,136.80 316.67,135.85 350.00,135.00 C383.33,134.15 416.67,132.90 450.00,132.50 C483.33,132.10 516.67,132.15 550.00,132.60 C583.33,133.05 616.67,134.05 650.00,135.20 C683.33,136.35 716.67,137.87 750.00,139.50 C783.33,141.13 824.33,143.37 850.00,145.00 C875.67,146.63 885.00,147.93 904.00,149.30 C923.00,150.67 948.00,152.07 964.00,153.20 C980.00,154.33 990.00,155.33 1000.00,156.10 C1010.00,156.87 1016.67,157.15 1024.00,157.80 C1031.33,158.45 1037.33,159.27 1044.00,160.00 L1044,0 L-20,0 Z" fill="#7ec0f9"/>
<path d="M-20.00,158.00 C-13.33,157.07 -13.33,157.23 0.00,155.20 C13.33,153.17 43.33,148.50 60.00,145.80 C76.67,143.10 83.33,141.40 100.00,139.00 C116.67,136.60 143.33,133.57 160.00,131.40 C176.67,129.23 185.00,127.67 200.00,126.00 C215.00,124.33 225.00,123.32 250.00,121.40 C275.00,119.48 316.67,116.48 350.00,114.50 C383.33,112.52 416.67,110.48 450.00,109.50 C483.33,108.52 516.67,108.28 550.00,108.60 C583.33,108.92 616.67,110.08 650.00,111.40 C683.33,112.72 716.67,113.65 750.00,116.50 C783.33,119.35 824.33,125.25 850.00,128.50 C875.67,131.75 885.00,133.18 904.00,136.00 C923.00,138.82 948.00,142.70 964.00,145.40 C980.00,148.10 990.00,150.27 1000.00,152.20 C1010.00,154.13 1016.67,155.70 1024.00,157.00 C1031.33,158.30 1037.33,159.00 1044.00,160.00 L1044,0 L-20,0 Z" fill="#dcedfb"/>
<path d="M-20.00,686.00 C-13.33,686.80 -20.00,686.37 0.00,688.40 C20.00,690.43 66.67,695.17 100.00,698.20 C133.33,701.23 166.67,704.50 200.00,706.60 C233.33,708.70 266.67,709.48 300.00,710.80 C333.33,712.12 366.67,713.63 400.00,714.50 C433.33,715.37 466.67,715.83 500.00,716.00 C533.33,716.17 573.33,716.12 600.00,715.50 C626.67,714.88 640.00,713.05 660.00,712.30 C680.00,711.55 692.67,711.80 720.00,711.00 C747.33,710.20 790.00,709.63 824.00,707.50 C858.00,705.37 890.67,701.07 924.00,698.20 C957.33,695.33 1004.00,692.00 1024.00,690.30 C1044.00,688.60 1037.33,688.77 1044.00,688.00 L1044,760 L-20,760 Z" fill="rgb(252,252,252)"/>
<path d="M-20.00,687.00 C-13.33,687.80 -20.00,687.37 0.00,689.40 C20.00,691.43 66.67,696.17 100.00,699.20 C133.33,702.23 166.67,705.50 200.00,707.60 C233.33,709.70 266.67,710.48 300.00,711.80 C333.33,713.12 366.67,714.63 400.00,715.50 C433.33,716.37 466.67,716.83 500.00,717.00 C533.33,717.17 573.33,717.12 600.00,716.50 C626.67,715.88 640.00,714.05 660.00,713.30 C680.00,712.55 692.67,712.80 720.00,712.00 C747.33,711.20 790.00,710.63 824.00,708.50 C858.00,706.37 890.67,702.07 924.00,699.20 C957.33,696.33 1004.00,693.00 1024.00,691.30 C1044.00,689.60 1037.33,689.77 1044.00,689.00 L1044,760 L-20,760 Z" fill="rgb(252,252,252)"/>
<path d="M-20.00,688.00 C-13.33,688.80 -20.00,688.37 0.00,690.40 C20.00,692.43 66.67,697.17 100.00,700.20 C133.33,703.23 166.67,706.50 200.00,708.60 C233.33,710.70 266.67,711.48 300.00,712.80 C333.33,714.12 366.67,715.63 400.00,716.50 C433.33,717.37 466.67,717.83 500.00,718.00 C533.33,718.17 573.33,718.12 600.00,717.50 C626.67,716.88 640.00,715.05 660.00,714.30 C680.00,713.55 692.67,713.80 720.00,713.00 C747.33,712.20 790.00,711.63 824.00,709.50 C858.00,707.37 890.67,703.07 924.00,700.20 C957.33,697.33 1004.00,694.00 1024.00,692.30 C1044.00,690.60 1037.33,690.77 1044.00,690.00 L1044,760 L-20,760 Z" fill="rgb(252,252,252)"/>
<path d="M-20.00,689.00 C-13.33,689.80 -20.00,689.37 0.00,691.40 C20.00,693.43 66.67,698.17 100.00,701.20 C133.33,704.23 166.67,707.50 200.00,709.60 C233.33,711.70 266.67,712.48 300.00,713.80 C333.33,715.12 366.67,716.63 400.00,717.50 C433.33,718.37 466.67,718.83 500.00,719.00 C533.33,719.17 573.33,719.12 600.00,718.50 C626.67,717.88 640.00,716.05 660.00,715.30 C680.00,714.55 692.67,714.80 720.00,714.00 C747.33,713.20 790.00,712.63 824.00,710.50 C858.00,708.37 890.67,704.07 924.00,701.20 C957.33,698.33 1004.00,695.00 1024.00,693.30 C1044.00,691.60 1037.33,691.77 1044.00,691.00 L1044,760 L-20,760 Z" fill="rgb(252,252,252)"/>
<path d="M-20.00,690.00 C-13.33,690.80 -20.00,690.37 0.00,692.40 C20.00,694.43 66.67,699.17 100.00,702.20 C133.33,705.23 166.67,708.50 200.00,710.60 C233.33,712.70 266.67,713.48 300.00,714.80 C333.33,716.12 366.67,717.63 400.00,718.50 C433.33,719.37 466.67,719.83 500.00,720.00 C533.33,720.17 573.33,720.12 600.00,719.50 C626.67,718.88 640.00,717.05 660.00,716.30 C680.00,715.55 692.67,715.80 720.00,715.00 C747.33,714.20 790.00,713.63 824.00,711.50 C858.00,709.37 890.67,705.07 924.00,702.20 C957.33,699.33 1004.00,696.00 1024.00,694.30 C1044.00,692.60 1037.33,692.77 1044.00,692.00 L1044,760 L-20,760 Z" fill="rgb(251,251,251)"/>
<path d="M-20.00,691.00 C-13.33,691.80 -20.00,691.37 0.00,693.40 C20.00,695.43 66.67,700.17 100.00,703.20 C133.33,706.23 166.67,709.50 200.00,711.60 C233.33,713.70 266.67,714.48 300.00,715.80 C333.33,717.12 366.67,718.63 400.00,719.50 C433.33,720.37 466.67,720.83 500.00,721.00 C533.33,721.17 573.33,721.12 600.00,720.50 C626.67,719.88 640.00,718.05 660.00,717.30 C680.00,716.55 692.67,716.80 720.00,716.00 C747.33,715.20 790.00,714.63 824.00,712.50 C858.00,710.37 890.67,706.07 924.00,703.20 C957.33,700.33 1004.00,697.00 1024.00,695.30 C1044.00,693.60 1037.33,693.77 1044.00,693.00 L1044,760 L-20,760 Z" fill="rgb(251,251,251)"/>
<path d="M-20.00,692.00 C-13.33,692.80 -20.00,692.37 0.00,694.40 C20.00,696.43 66.67,701.17 100.00,704.20 C133.33,707.23 166.67,710.50 200.00,712.60 C233.33,714.70 266.67,715.48 300.00,716.80 C333.33,718.12 366.67,719.63 400.00,720.50 C433.33,721.37 466.67,721.83 500.00,722.00 C533.33,722.17 573.33,722.12 600.00,721.50 C626.67,720.88 640.00,719.05 660.00,718.30 C680.00,717.55 692.67,717.80 720.00,717.00 C747.33,716.20 790.00,715.63 824.00,713.50 C858.00,711.37 890.67,707.07 924.00,704.20 C957.33,701.33 1004.00,698.00 1024.00,696.30 C1044.00,694.60 1037.33,694.77 1044.00,694.00 L1044,760 L-20,760 Z" fill="rgb(251,251,251)"/>
<path d="M-20.00,693.00 C-13.33,693.80 -20.00,693.37 0.00,695.40 C20.00,697.43 66.67,702.17 100.00,705.20 C133.33,708.23 166.67,711.50 200.00,713.60 C233.33,715.70 266.67,716.48 300.00,717.80 C333.33,719.12 366.67,720.63 400.00,721.50 C433.33,722.37 466.67,722.83 500.00,723.00 C533.33,723.17 573.33,723.12 600.00,722.50 C626.67,721.88 640.00,720.05 660.00,719.30 C680.00,718.55 692.67,718.80 720.00,718.00 C747.33,717.20 790.00,716.63 824.00,714.50 C858.00,712.37 890.67,708.07 924.00,705.20 C957.33,702.33 1004.00,699.00 1024.00,697.30 C1044.00,695.60 1037.33,695.77 1044.00,695.00 L1044,760 L-20,760 Z" fill="rgb(250,250,250)"/>
<path d="M-20.00,694.00 C-13.33,694.80 -20.00,694.37 0.00,696.40 C20.00,698.43 66.67,703.17 100.00,706.20 C133.33,709.23 166.67,712.50 200.00,714.60 C233.33,716.70 266.67,717.48 300.00,718.80 C333.33,720.12 366.67,721.63 400.00,722.50 C433.33,723.37 466.67,723.83 500.00,724.00 C533.33,724.17 573.33,724.12 600.00,723.50 C626.67,722.88 640.00,721.05 660.00,720.30 C680.00,719.55 692.67,719.80 720.00,719.00 C747.33,718.20 790.00,717.63 824.00,715.50 C858.00,713.37 890.67,709.07 924.00,706.20 C957.33,703.33 1004.00,700.00 1024.00,698.30 C1044.00,696.60 1037.33,696.77 1044.00,696.00 L1044,760 L-20,760 Z" fill="rgb(250,250,250)"/>
<path d="M-20.00,695.00 C-13.33,695.80 -20.00,695.37 0.00,697.40 C20.00,699.43 66.67,704.17 100.00,707.20 C133.33,710.23 166.67,713.50 200.00,715.60 C233.33,717.70 266.67,718.48 300.00,719.80 C333.33,721.12 366.67,722.63 400.00,723.50 C433.33,724.37 466.67,724.83 500.00,725.00 C533.33,725.17 573.33,725.12 600.00,724.50 C626.67,723.88 640.00,722.05 660.00,721.30 C680.00,720.55 692.67,720.80 720.00,720.00 C747.33,719.20 790.00,718.63 824.00,716.50 C858.00,714.37 890.67,710.07 924.00,707.20 C957.33,704.33 1004.00,701.00 1024.00,699.30 C1044.00,697.60 1037.33,697.77 1044.00,697.00 L1044,760 L-20,760 Z" fill="rgb(250,250,250)"/>
<path d="M-20.00,696.00 C-13.33,696.80 -20.00,696.37 0.00,698.40 C20.00,700.43 66.67,705.17 100.00,708.20 C133.33,711.23 166.67,714.50 200.00,716.60 C233.33,718.70 266.67,719.48 300.00,720.80 C333.33,722.12 366.67,723.63 400.00,724.50 C433.33,725.37 466.67,725.83 500.00,726.00 C533.33,726.17 573.33,726.12 600.00,725.50 C626.67,724.88 640.00,723.05 660.00,722.30 C680.00,721.55 692.67,721.80 720.00,721.00 C747.33,720.20 790.00,719.63 824.00,717.50 C858.00,715.37 890.67,711.07 924.00,708.20 C957.33,705.33 1004.00,702.00 1024.00,700.30 C1044.00,698.60 1037.33,698.77 1044.00,698.00 L1044,760 L-20,760 Z" fill="rgb(249,249,249)"/>
<path d="M-20.00,697.00 C-13.33,697.80 -20.00,697.37 0.00,699.40 C20.00,701.43 66.67,706.17 100.00,709.20 C133.33,712.23 166.67,715.50 200.00,717.60 C233.33,719.70 266.67,720.48 300.00,721.80 C333.33,723.12 366.67,724.63 400.00,725.50 C433.33,726.37 466.67,726.83 500.00,727.00 C533.33,727.17 573.33,727.12 600.00,726.50 C626.67,725.88 640.00,724.05 660.00,723.30 C680.00,722.55 692.67,722.80 720.00,722.00 C747.33,721.20 790.00,720.63 824.00,718.50 C858.00,716.37 890.67,712.07 924.00,709.20 C957.33,706.33 1004.00,703.00 1024.00,701.30 C1044.00,699.60 1037.33,699.77 1044.00,699.00 L1044,760 L-20,760 Z" fill="rgb(248,248,248)"/>
<path d="M-20.00,698.00 C-13.33,698.80 -20.00,698.37 0.00,700.40 C20.00,702.43 66.67,707.17 100.00,710.20 C133.33,713.23 166.67,716.50 200.00,718.60 C233.33,720.70 266.67,721.48 300.00,722.80 C333.33,724.12 366.67,725.63 400.00,726.50 C433.33,727.37 466.67,727.83 500.00,728.00 C533.33,728.17 573.33,728.12 600.00,727.50 C626.67,726.88 640.00,725.05 660.00,724.30 C680.00,723.55 692.67,723.80 720.00,723.00 C747.33,722.20 790.00,721.63 824.00,719.50 C858.00,717.37 890.67,713.07 924.00,710.20 C957.33,707.33 1004.00,704.00 1024.00,702.30 C1044.00,700.60 1037.33,700.77 1044.00,700.00 L1044,760 L-20,760 Z" fill="rgb(248,248,248)"/>
<path d="M-20.00,699.00 C-13.33,699.80 -20.00,699.37 0.00,701.40 C20.00,703.43 66.67,708.17 100.00,711.20 C133.33,714.23 166.67,717.50 200.00,719.60 C233.33,721.70 266.67,722.48 300.00,723.80 C333.33,725.12 366.67,726.63 400.00,727.50 C433.33,728.37 466.67,728.83 500.00,729.00 C533.33,729.17 573.33,729.12 600.00,728.50 C626.67,727.88 640.00,726.05 660.00,725.30 C680.00,724.55 692.67,724.80 720.00,724.00 C747.33,723.20 790.00,722.63 824.00,720.50 C858.00,718.37 890.67,714.07 924.00,711.20 C957.33,708.33 1004.00,705.00 1024.00,703.30 C1044.00,701.60 1037.33,701.77 1044.00,701.00 L1044,760 L-20,760 Z" fill="rgb(247,247,247)"/>
<path d="M-20.00,700.00 C-13.33,700.80 -20.00,700.37 0.00,702.40 C20.00,704.43 66.67,709.17 100.00,712.20 C133.33,715.23 166.67,718.50 200.00,720.60 C233.33,722.70 266.67,723.48 300.00,724.80 C333.33,726.12 366.67,727.63 400.00,728.50 C433.33,729.37 466.67,729.83 500.00,730.00 C533.33,730.17 573.33,730.12 600.00,729.50 C626.67,728.88 640.00,727.05 660.00,726.30 C680.00,725.55 692.67,725.80 720.00,725.00 C747.33,724.20 790.00,723.63 824.00,721.50 C858.00,719.37 890.67,715.07 924.00,712.20 C957.33,709.33 1004.00,706.00 1024.00,704.30 C1044.00,702.60 1037.33,702.77 1044.00,702.00 L1044,760 L-20,760 Z" fill="rgb(246,246,246)"/>
<path d="M-20.00,701.00 C-13.33,701.80 -20.00,701.37 0.00,703.40 C20.00,705.43 66.67,710.17 100.00,713.20 C133.33,716.23 166.67,719.50 200.00,721.60 C233.33,723.70 266.67,724.48 300.00,725.80 C333.33,727.12 366.67,728.63 400.00,729.50 C433.33,730.37 466.67,730.83 500.00,731.00 C533.33,731.17 573.33,731.12 600.00,730.50 C626.67,729.88 640.00,728.05 660.00,727.30 C680.00,726.55 692.67,726.80 720.00,726.00 C747.33,725.20 790.00,724.63 824.00,722.50 C858.00,720.37 890.67,716.07 924.00,713.20 C957.33,710.33 1004.00,707.00 1024.00,705.30 C1044.00,703.60 1037.33,703.77 1044.00,703.00 L1044,760 L-20,760 Z" fill="rgb(245,245,245)"/>
<path d="M-20.00,702.00 C-13.33,702.80 -20.00,702.37 0.00,704.40 C20.00,706.43 66.67,711.17 100.00,714.20 C133.33,717.23 166.67,720.50 200.00,722.60 C233.33,724.70 266.67,725.48 300.00,726.80 C333.33,728.12 366.67,729.63 400.00,730.50 C433.33,731.37 466.67,731.83 500.00,732.00 C533.33,732.17 573.33,732.12 600.00,731.50 C626.67,730.88 640.00,729.05 660.00,728.30 C680.00,727.55 692.67,727.80 720.00,727.00 C747.33,726.20 790.00,725.63 824.00,723.50 C858.00,721.37 890.67,717.07 924.00,714.20 C957.33,711.33 1004.00,708.00 1024.00,706.30 C1044.00,704.60 1037.33,704.77 1044.00,704.00 L1044,760 L-20,760 Z" fill="rgb(244,244,244)"/>
<path d="M-20.00,703.00 C-13.33,703.80 -20.00,703.37 0.00,705.40 C20.00,707.43 66.67,712.17 100.00,715.20 C133.33,718.23 166.67,721.50 200.00,723.60 C233.33,725.70 266.67,726.48 300.00,727.80 C333.33,729.12 366.67,730.63 400.00,731.50 C433.33,732.37 466.67,732.83 500.00,733.00 C533.33,733.17 573.33,733.12 600.00,732.50 C626.67,731.88 640.00,730.05 660.00,729.30 C680.00,728.55 692.67,728.80 720.00,728.00 C747.33,727.20 790.00,726.63 824.00,724.50 C858.00,722.37 890.67,718.07 924.00,715.20 C957.33,712.33 1004.00,709.00 1024.00,707.30 C1044.00,705.60 1037.33,705.77 1044.00,705.00 L1044,760 L-20,760 Z" fill="rgb(242,242,242)"/>
<path d="M-20.00,704.00 C-13.33,704.80 -20.00,704.37 0.00,706.40 C20.00,708.43 66.67,713.17 100.00,716.20 C133.33,719.23 166.67,722.50 200.00,724.60 C233.33,726.70 266.67,727.48 300.00,728.80 C333.33,730.12 366.67,731.63 400.00,732.50 C433.33,733.37 466.67,733.83 500.00,734.00 C533.33,734.17 573.33,734.12 600.00,733.50 C626.67,732.88 640.00,731.05 660.00,730.30 C680.00,729.55 692.67,729.80 720.00,729.00 C747.33,728.20 790.00,727.63 824.00,725.50 C858.00,723.37 890.67,719.07 924.00,716.20 C957.33,713.33 1004.00,710.00 1024.00,708.30 C1044.00,706.60 1037.33,706.77 1044.00,706.00 L1044,760 L-20,760 Z" fill="rgb(241,241,241)"/>
<path d="M-20.00,705.00 C-13.33,705.80 -20.00,705.37 0.00,707.40 C20.00,709.43 66.67,714.17 100.00,717.20 C133.33,720.23 166.67,723.50 200.00,725.60 C233.33,727.70 266.67,728.48 300.00,729.80 C333.33,731.12 366.67,732.63 400.00,733.50 C433.33,734.37 466.67,734.83 500.00,735.00 C533.33,735.17 573.33,735.12 600.00,734.50 C626.67,733.88 640.00,732.05 660.00,731.30 C680.00,730.55 692.67,730.80 720.00,730.00 C747.33,729.20 790.00,728.63 824.00,726.50 C858.00,724.37 890.67,720.07 924.00,717.20 C957.33,714.33 1004.00,711.00 1024.00,709.30 C1044.00,707.60 1037.33,707.77 1044.00,707.00 L1044,760 L-20,760 Z" fill="rgb(239,239,239)"/>
<path d="M-20.00,706.00 C-13.33,706.80 -20.00,706.37 0.00,708.40 C20.00,710.43 66.67,715.17 100.00,718.20 C133.33,721.23 166.67,724.50 200.00,726.60 C233.33,728.70 266.67,729.48 300.00,730.80 C333.33,732.12 366.67,733.63 400.00,734.50 C433.33,735.37 466.67,735.83 500.00,736.00 C533.33,736.17 573.33,736.12 600.00,735.50 C626.67,734.88 640.00,733.05 660.00,732.30 C680.00,731.55 692.67,731.80 720.00,731.00 C747.33,730.20 790.00,729.63 824.00,727.50 C858.00,725.37 890.67,721.07 924.00,718.20 C957.33,715.33 1004.00,712.00 1024.00,710.30 C1044.00,708.60 1037.33,708.77 1044.00,708.00 L1044,760 L-20,760 Z" fill="rgb(237,237,237)"/>
<path d="M-20.00,707.00 C-13.33,707.80 -20.00,707.37 0.00,709.40 C20.00,711.43 66.67,716.17 100.00,719.20 C133.33,722.23 166.67,725.50 200.00,727.60 C233.33,729.70 266.67,730.48 300.00,731.80 C333.33,733.12 366.67,734.63 400.00,735.50 C433.33,736.37 466.67,736.83 500.00,737.00 C533.33,737.17 573.33,737.12 600.00,736.50 C626.67,735.88 640.00,734.05 660.00,733.30 C680.00,732.55 692.67,732.80 720.00,732.00 C747.33,731.20 790.00,730.63 824.00,728.50 C858.00,726.37 890.67,722.07 924.00,719.20 C957.33,716.33 1004.00,713.00 1024.00,711.30 C1044.00,709.60 1037.33,709.77 1044.00,709.00 L1044,760 L-20,760 Z" fill="rgb(234,234,234)"/>
<path d="M-20.00,708.00 C-13.33,708.80 -20.00,708.37 0.00,710.40 C20.00,712.43 66.67,717.17 100.00,720.20 C133.33,723.23 166.67,726.50 200.00,728.60 C233.33,730.70 266.67,731.48 300.00,732.80 C333.33,734.12 366.67,735.63 400.00,736.50 C433.33,737.37 466.67,737.83 500.00,738.00 C533.33,738.17 573.33,738.12 600.00,737.50 C626.67,736.88 640.00,735.05 660.00,734.30 C680.00,733.55 692.67,733.80 720.00,733.00 C747.33,732.20 790.00,731.63 824.00,729.50 C858.00,727.37 890.67,723.07 924.00,720.20 C957.33,717.33 1004.00,714.00 1024.00,712.30 C1044.00,710.60 1037.33,710.77 1044.00,710.00 L1044,760 L-20,760 Z" fill="rgb(231,231,231)"/>
<path d="M-20.00,709.00 C-13.33,709.80 -20.00,709.37 0.00,711.40 C20.00,713.43 66.67,718.17 100.00,721.20 C133.33,724.23 166.67,727.50 200.00,729.60 C233.33,731.70 266.67,732.48 300.00,733.80 C333.33,735.12 366.67,736.63 400.00,737.50 C433.33,738.37 466.67,738.83 500.00,739.00 C533.33,739.17 573.33,739.12 600.00,738.50 C626.67,737.88 640.00,736.05 660.00,735.30 C680.00,734.55 692.67,734.80 720.00,734.00 C747.33,733.20 790.00,732.63 824.00,730.50 C858.00,728.37 890.67,724.07 924.00,721.20 C957.33,718.33 1004.00,715.00 1024.00,713.30 C1044.00,711.60 1037.33,711.77 1044.00,711.00 L1044,760 L-20,760 Z" fill="rgb(228,228,228)"/>
<path d="M-20.00,710.00 C-13.33,710.80 -20.00,710.37 0.00,712.40 C20.00,714.43 66.67,719.17 100.00,722.20 C133.33,725.23 166.67,728.50 200.00,730.60 C233.33,732.70 266.67,733.48 300.00,734.80 C333.33,736.12 366.67,737.63 400.00,738.50 C433.33,739.37 466.67,739.83 500.00,740.00 C533.33,740.17 573.33,740.12 600.00,739.50 C626.67,738.88 640.00,737.05 660.00,736.30 C680.00,735.55 692.67,735.80 720.00,735.00 C747.33,734.20 790.00,733.63 824.00,731.50 C858.00,729.37 890.67,725.07 924.00,722.20 C957.33,719.33 1004.00,716.00 1024.00,714.30 C1044.00,712.60 1037.33,712.77 1044.00,712.00 L1044,760 L-20,760 Z" fill="rgb(224,224,224)"/>
<path d="M-20.00,711.00 C-13.33,711.80 -20.00,711.37 0.00,713.40 C20.00,715.43 66.67,720.17 100.00,723.20 C133.33,726.23 166.67,729.50 200.00,731.60 C233.33,733.70 266.67,734.48 300.00,735.80 C333.33,737.12 366.67,738.63 400.00,739.50 C433.33,740.37 466.67,740.83 500.00,741.00 C533.33,741.17 573.33,741.12 600.00,740.50 C626.67,739.88 640.00,738.05 660.00,737.30 C680.00,736.55 692.67,736.80 720.00,736.00 C747.33,735.20 790.00,734.63 824.00,732.50 C858.00,730.37 890.67,726.07 924.00,723.20 C957.33,720.33 1004.00,717.00 1024.00,715.30 C1044.00,713.60 1037.33,713.77 1044.00,713.00 L1044,760 L-20,760 Z" fill="rgb(220,220,220)"/>
<path d="M-20.00,712.00 C-13.33,712.80 -20.00,712.37 0.00,714.40 C20.00,716.43 66.67,721.17 100.00,724.20 C133.33,727.23 166.67,730.50 200.00,732.60 C233.33,734.70 266.67,735.48 300.00,736.80 C333.33,738.12 366.67,739.63 400.00,740.50 C433.33,741.37 466.67,741.83 500.00,742.00 C533.33,742.17 573.33,742.12 600.00,741.50 C626.67,740.88 640.00,739.05 660.00,738.30 C680.00,737.55 692.67,737.80 720.00,737.00 C747.33,736.20 790.00,735.63 824.00,733.50 C858.00,731.37 890.67,727.07 924.00,724.20 C957.33,721.33 1004.00,718.00 1024.00,716.30 C1044.00,714.60 1037.33,714.77 1044.00,714.00 L1044,760 L-20,760 Z" fill="rgb(215,215,215)"/>
<path d="M-20.00,713.00 C-13.33,713.80 -20.00,713.37 0.00,715.40 C20.00,717.43 66.67,722.17 100.00,725.20 C133.33,728.23 166.67,731.50 200.00,733.60 C233.33,735.70 266.67,736.48 300.00,737.80 C333.33,739.12 366.67,740.63 400.00,741.50 C433.33,742.37 466.67,742.83 500.00,743.00 C533.33,743.17 573.33,743.12 600.00,742.50 C626.67,741.88 640.00,740.05 660.00,739.30 C680.00,738.55 692.67,738.80 720.00,738.00 C747.33,737.20 790.00,736.63 824.00,734.50 C858.00,732.37 890.67,728.07 924.00,725.20 C957.33,722.33 1004.00,719.00 1024.00,717.30 C1044.00,715.60 1037.33,715.77 1044.00,715.00 L1044,760 L-20,760 Z" fill="rgb(209,209,209)"/>
<path d="M-20.00,714.00 C-13.33,714.80 -20.00,714.37 0.00,716.40 C20.00,718.43 66.67,723.17 100.00,726.20 C133.33,729.23 166.67,732.50 200.00,734.60 C233.33,736.70 266.67,737.48 300.00,738.80 C333.33,740.12 366.67,741.63 400.00,742.50 C433.33,743.37 466.67,743.83 500.00,744.00 C533.33,744.17 573.33,744.12 600.00,743.50 C626.67,742.88 640.00,741.05 660.00,740.30 C680.00,739.55 692.67,739.80 720.00,739.00 C747.33,738.20 790.00,737.63 824.00,735.50 C858.00,733.37 890.67,729.07 924.00,726.20 C957.33,723.33 1004.00,720.00 1024.00,718.30 C1044.00,716.60 1037.33,716.77 1044.00,716.00 L1044,760 L-20,760 Z" fill="rgb(202,202,202)"/>
<path d="M-20.00,715.00 C-13.33,715.80 -20.00,715.37 0.00,717.40 C20.00,719.43 66.67,724.17 100.00,727.20 C133.33,730.23 166.67,733.50 200.00,735.60 C233.33,737.70 266.67,738.48 300.00,739.80 C333.33,741.12 366.67,742.63 400.00,743.50 C433.33,744.37 466.67,744.83 500.00,745.00 C533.33,745.17 573.33,745.12 600.00,744.50 C626.67,743.88 640.00,742.05 660.00,741.30 C680.00,740.55 692.67,740.80 720.00,740.00 C747.33,739.20 790.00,738.63 824.00,736.50 C858.00,734.37 890.67,730.07 924.00,727.20 C957.33,724.33 1004.00,721.00 1024.00,719.30 C1044.00,717.60 1037.33,717.77 1044.00,717.00 L1044,760 L-20,760 Z" fill="rgb(194,194,194)"/>
<path d="M-20.00,716.00 C-13.33,716.80 -20.00,716.37 0.00,718.40 C20.00,720.43 66.67,725.17 100.00,728.20 C133.33,731.23 166.67,734.50 200.00,736.60 C233.33,738.70 266.67,739.48 300.00,740.80 C333.33,742.12 366.67,743.63 400.00,744.50 C433.33,745.37 466.67,745.83 500.00,746.00 C533.33,746.17 573.33,746.12 600.00,745.50 C626.67,744.88 640.00,743.05 660.00,742.30 C680.00,741.55 692.67,741.80 720.00,741.00 C747.33,740.20 790.00,739.63 824.00,737.50 C858.00,735.37 890.67,731.07 924.00,728.20 C957.33,725.33 1004.00,722.00 1024.00,720.30 C1044.00,718.60 1037.33,718.77 1044.00,718.00 L1044,760 L-20,760 Z" fill="rgb(185,185,185)"/>
<path d="M-20.00,716.00 C-13.33,716.80 -20.00,716.37 0.00,718.40 C20.00,720.43 66.67,725.17 100.00,728.20 C133.33,731.23 166.67,734.50 200.00,736.60 C233.33,738.70 266.67,739.48 300.00,740.80 C333.33,742.12 366.67,743.63 400.00,744.50 C433.33,745.37 466.67,745.83 500.00,746.00 C533.33,746.17 573.33,746.12 600.00,745.50 C626.67,744.88 640.00,743.05 660.00,742.30 C680.00,741.55 692.67,741.80 720.00,741.00 C747.33,740.20 790.00,739.63 824.00,737.50 C858.00,735.37 890.67,731.07 924.00,728.20 C957.33,725.33 1004.00,722.00 1024.00,720.30 C1044.00,718.60 1037.33,718.77 1044.00,718.00 L1044,760 L-20,760 Z" fill="#7ec0f9"/>
<path d="M-20.00,718.00 C-13.33,718.77 -20.00,717.13 0.00,720.30 C20.00,723.47 66.67,732.72 100.00,737.00 C133.33,741.28 166.67,743.50 200.00,746.00 C233.33,748.50 216.67,751.00 300.00,752.00 C383.33,753.00 612.67,753.00 700.00,752.00 C787.33,751.00 786.67,748.50 824.00,746.00 C861.33,743.50 890.67,740.95 924.00,737.00 C957.33,733.05 1004.00,725.13 1024.00,722.30 C1044.00,719.47 1037.33,720.77 1044.00,720.00 L1044,760 L-20,760 Z" fill="#dcedfb"/>
<g transform="translate(-1.2,0.3)">
<g filter="url(#blur3)" opacity="0.4"><circle cx="74.5" cy="71" r="53" fill="#5a6a90"/></g>
<rect x="63.0" y="13" width="19" height="14" rx="1.2" fill="#1b1b5c" transform="rotate(0 72.5 68)"/>
<rect x="63.0" y="13" width="19" height="14" rx="1.2" fill="#1b1b5c" transform="rotate(45 72.5 68)"/>
<rect x="63.0" y="13" width="19" height="14" rx="1.2" fill="#1b1b5c" transform="rotate(90 72.5 68)"/>
<rect x="63.0" y="13" width="19" height="14" rx="1.2" fill="#1b1b5c" transform="rotate(135 72.5 68)"/>
<rect x="63.0" y="13" width="19" height="14" rx="1.2" fill="#1b1b5c" transform="rotate(180 72.5 68)"/>
<rect x="63.0" y="13" width="19" height="14" rx="1.2" fill="#1b1b5c" transform="rotate(225 72.5 68)"/>
<rect x="63.0" y="13" width="19" height="14" rx="1.2" fill="#1b1b5c" transform="rotate(270 72.5 68)"/>
<rect x="63.0" y="13" width="19" height="14" rx="1.2" fill="#1b1b5c" transform="rotate(315 72.5 68)"/>
<circle cx="72.5" cy="68" r="47.6" fill="#1b1b5c"/>
<circle cx="72.5" cy="67.7" r="38.3" fill="none" stroke="#aed1f1" stroke-width="1.3"/>
<clipPath id="lgbody"><circle cx="72.5" cy="68" r="47.6"/></clipPath>
<rect x="20" y="87.4" width="110" height="40" fill="#aed1f1" clip-path="url(#lgbody)"/>
<path d="M20,87.4 L125,87.4" stroke="#1b1b5c" stroke-width="0.9" clip-path="url(#lgbody)"/>
<circle cx="72.5" cy="67.5" r="34" fill="#ffffff" stroke="#1b1b5c" stroke-width="1.4"/>
<clipPath id="lgw"><circle cx="72.5" cy="67.5" r="33.4"/></clipPath>
<g clip-path="url(#lgw)">
<path d="M30,87.8 L115,87.8 L115,105 L30,105 Z" fill="#9c9ac8"/>
<path d="M64,102 C72,97 84,92 104,88.5 L110,88.5 L110,105 L64,105 Z" fill="#ffffff"/>
<path d="M36,88 L40,83 L46,80.5 L52,82 L58,78.5 L63,76 L67,77 L67,88 Z" fill="#1b1b5c"/>
<path d="M76,88 L77,74 L80,66 L84,80 L88,86 L90,88 Z" fill="#1b1b5c"/>
<path d="M49,81 L52,86 L54,80 Z" fill="#ffffff"/>
<path d="M67.8,35 L77.8,35 L76.6,40 L76.4,76 L69.4,76 L69.2,40 Z" fill="#1b1b5c"/>
<path d="M72.9,42 L72.9,70" stroke="#ffffff" stroke-width="0.8" stroke-dasharray="0.9 1.3"/>
<rect x="66.5" y="75" width="11" height="12" fill="#d4d4ea" stroke="#1b1b5c" stroke-width="0.6"/>
<path d="M66.5,79 L77.5,79 M66.5,83 L77.5,83 M70,75 L70,87 M74,75 L74,87" stroke="#1b1b5c" stroke-width="0.5"/>
<path d="M49.5,38 L49.5,58 M52.5,38 L52.5,61 M56.5,38 L56.5,61 M59,40 L59,58" stroke="#7474a4" stroke-width="0.9"/>
<circle cx="54.5" cy="61" r="2" fill="none" stroke="#1b1b5c" stroke-width="0.8"/>
<path d="M47,70 L54.5,64 L62,70 L54.5,76 Z" fill="#dcdcef" stroke="#1b1b5c" stroke-width="0.9"/>
<path d="M50.7,67 L58.3,73 M58.3,67 L50.7,73" stroke="#1b1b5c" stroke-width="0.5"/>
<path d="M80,37 C84,42 78,46 83,50 C87,53 84,58 88,62 C91,66 89,71 94,76 L99,86" fill="none" stroke="#1b1b5c" stroke-width="0.8"/>
<path d="M60,40 L88,62" stroke="#8080b0" stroke-width="0.6"/>
<path d="M86,68 L92,58 L94,59 L90,70 Z" fill="#ffffff" stroke="#1b1b5c" stroke-width="0.7"/>
</g>
<path d="M26.59,46.70 A53.6,53.6 0 0 1 117.01,46.70 L106.21,53.58 A40.8,40.8 0 0 0 37.39,53.58 Z" fill="#aed1f1" stroke="#1b1b5c" stroke-width="1"/>
<path d="M34.26,47.21 A47,47 0 0 1 109.34,47.21" fill="none" stroke="#1b1b5c" stroke-width="3.2" stroke-dasharray="1.1 0.4 2.2 0.7 0.7 0.5 2.6 0.6 1.5 0.5 0.6 0.9" opacity="0.9"/>
<defs><path id="lgb2" d="M26.42,94.99 A71.28,55.60 0 0 0 118.06,94.99"/><path id="lgb" d="M26.67,101.36 A70.90,55.30 0 0 0 117.82,101.36"/></defs>
<g transform="translate(72.5,0) scale(0.78,1) translate(-72.5,0)">
<text font-size="7.4" font-weight="bold" fill="#1b1b5c" style="font-family:Liberation Sans" letter-spacing="-0.2"><textPath href="#lgb2" startOffset="50%" text-anchor="middle">JEDDAH CHAMBER OF</textPath></text>
<text font-size="7.4" font-weight="bold" fill="#1b1b5c" style="font-family:Liberation Sans" letter-spacing="-0.2"><textPath href="#lgb" startOffset="50%" text-anchor="middle">COMMERCE &amp; INDUSTRY</textPath></text>
</g>
</g>
<text x="230.9" y="68" font-family="Liberation Sans" font-weight="bold" font-size="45.6" fill="#cd3800" filter="url(#tshadow)">Strategic Map - Linkage Model</text>
<line x1="68" y1="323.3" x2="1022" y2="326" stroke="#8c8c8c" stroke-width="2" stroke-dasharray="1.6 0.6"/>
<line x1="60" y1="464" x2="1015" y2="466.2" stroke="#8c8c8c" stroke-width="2" stroke-dasharray="1.6 0.6"/>
<line x1="68" y1="598" x2="1022" y2="598.2" stroke="#8c8c8c" stroke-width="2" stroke-dasharray="1.6 0.6"/>
<path d="M573.7,483.7 L662.5,407.1 L705,365 C722,348 727,336 724.5,322 C721,308 700,298 643,285.5" fill="none" stroke="#000" stroke-width="2.7" marker-end="url(#ah)"/>
<path d="M830.6,486 C845,420 856,350 852.5,318 C850.5,300 845,291 841.5,283.5" fill="none" stroke="#303030" stroke-width="1.4"/>
<line x1="386.2" y1="341.1" x2="453.5" y2="281.2" stroke="#1a1a1a" stroke-width="1.2" marker-end="url(#ah)"/>
<line x1="914.4" y1="341.2" x2="463" y2="281.8" stroke="#1a1a1a" stroke-width="1.2" marker-end="url(#ah)"/>
<ellipse cx="248.4" cy="247" rx="112" ry="43.2" fill="#b8dfe3" stroke="#303030" stroke-width="1.25"/>
<ellipse cx="456.5" cy="239" rx="84" ry="43.5" fill="#b8dfe3" stroke="#303030" stroke-width="1.25"/>
<ellipse cx="646" cy="239" rx="84.5" ry="43.5" fill="#b8dfe3" stroke="#303030" stroke-width="1.25"/>
<ellipse cx="848" cy="238" rx="88" ry="43.5" fill="#b8dfe3" stroke="#303030" stroke-width="1.25"/>
<ellipse cx="217.3" cy="396" rx="79.5" ry="53.5" fill="#fefac6" stroke="#303030" stroke-width="1.25"/>
<ellipse cx="388.4" cy="399" rx="79.5" ry="53.5" fill="#fefac6" stroke="#303030" stroke-width="1.25"/>
<ellipse cx="564.5" cy="396.3" rx="83.5" ry="53.5" fill="#fefac6" stroke="#303030" stroke-width="1.25"/>
<ellipse cx="750" cy="399.6" rx="88" ry="53.7" fill="#fefac6" stroke="#303030" stroke-width="1.25"/>
<ellipse cx="929.8" cy="399.4" rx="79.5" ry="53.5" fill="#fefac6" stroke="#303030" stroke-width="1.25"/>
<ellipse cx="303.7" cy="535" rx="108.2" ry="47.2" fill="#fccb97" stroke="#303030" stroke-width="1.25"/>
<ellipse cx="556.5" cy="534.6" rx="103.8" ry="47.5" fill="#fccb97" stroke="#303030" stroke-width="1.25"/>
<ellipse cx="820.3" cy="534.8" rx="116" ry="47" fill="#fccb97" stroke="#303030" stroke-width="1.25"/>
<ellipse cx="300.8" cy="689.8" rx="111.9" ry="46.5" fill="#cdfc98" stroke="#303030" stroke-width="1.25"/>
<ellipse cx="556.6" cy="689.7" rx="111.5" ry="46.5" fill="#cdfc98" stroke="#303030" stroke-width="1.25"/>
<ellipse cx="815.2" cy="691.4" rx="119.5" ry="45.5" fill="#cdfc98" stroke="#303030" stroke-width="1.25"/>
<path d="M545,483 C520,477 470,468 400.5,455" fill="none" stroke="#444" stroke-width="1.3" marker-end="url(#ah)"/>
<path d="M560,481 C600,472 660,463 733.8,455.2" fill="none" stroke="#444" stroke-width="1.3" marker-end="url(#ah)"/>
<text x="242.5" y="195.5" font-family="Liberation Serif" font-weight="bold" font-size="20" fill="#0a0a9a" text-anchor="middle">C1</text>
<text x="457.2" y="194.8" font-family="Liberation Serif" font-weight="bold" font-size="20" fill="#0a0a9a" text-anchor="middle">C2</text>
<text x="646.4" y="194.7" font-family="Liberation Serif" font-weight="bold" font-size="20" fill="#0a0a9a" text-anchor="middle">C3</text>
<text x="845.5" y="194.5" font-family="Liberation Serif" font-weight="bold" font-size="20" fill="#0a0a9a" text-anchor="middle">C4</text>
<text x="227.5" y="341" font-family="Liberation Serif" font-weight="bold" font-size="20" fill="#0a0a9a" text-anchor="middle">P1</text>
<text x="390.4" y="340.7" font-family="Liberation Serif" font-weight="bold" font-size="20" fill="#0a0a9a" text-anchor="middle">P2</text>
<text x="561.4" y="340.7" font-family="Liberation Serif" font-weight="bold" font-size="20" fill="#0a0a9a" text-anchor="middle">P3</text>
<text x="750.6" y="349.7" font-family="Liberation Serif" font-weight="bold" font-size="20" fill="#0a0a9a" text-anchor="middle">P4</text>
<text x="931.2" y="349.8" font-family="Liberation Serif" font-weight="bold" font-size="20" fill="#0a0a9a" text-anchor="middle">P5</text>
<text x="311.8" y="486.6" font-family="Liberation Serif" font-weight="bold" font-size="20" fill="#0a0a9a" text-anchor="middle">LG1</text>
<text x="543.9" y="486.6" font-family="Liberation Serif" font-weight="bold" font-size="20" fill="#0a0a9a" text-anchor="middle">LG2</text>
<text x="810.3" y="486.6" font-family="Liberation Serif" font-weight="bold" font-size="20" fill="#0a0a9a" text-anchor="middle">LG3</text>
<text x="303.4" y="640.8" font-family="Liberation Serif" font-weight="bold" font-size="20" fill="#0a0a9a" text-anchor="middle">F1</text>
<text x="552.7" y="640.8" font-family="Liberation Serif" font-weight="bold" font-size="20" fill="#0a0a9a" text-anchor="middle">F2</text>
<text x="819.4" y="640.8" font-family="Liberation Serif" font-weight="bold" font-size="20" fill="#0a0a9a" text-anchor="middle">F3</text>
<line x1="386.2" y1="341.1" x2="412" y2="318" stroke="#1a1a1a" stroke-width="1.2"/>
<line x1="209.5" y1="342.2" x2="233.5" y2="293.7" stroke="#1a1a1a" stroke-width="1.2" marker-end="url(#ah)"/>
<line x1="581" y1="341.2" x2="636.4" y2="285.5" stroke="#1a1a1a" stroke-width="1.2" marker-end="url(#ah)"/>
<line x1="757" y1="338.6" x2="830.9" y2="285.5" stroke="#1a1a1a" stroke-width="1.2" marker-end="url(#ah)"/>
<line x1="914.4" y1="341.2" x2="845.8" y2="286" stroke="#1a1a1a" stroke-width="1.2" marker-end="url(#ah)"/>
<line x1="302.2" y1="487.3" x2="302.2" y2="460" stroke="#1a1a1a" stroke-width="1.2" marker-end="url(#ah)"/>
<line x1="302.3" y1="639.7" x2="302.3" y2="598" stroke="#1a1a1a" stroke-width="1.2" marker-end="url(#ah)"/>
<line x1="543" y1="641.6" x2="308" y2="582.5" stroke="#1a1a1a" stroke-width="1.2" marker-end="url(#ah)"/>
<line x1="553.9" y1="638.4" x2="555.2" y2="583" stroke="#1a1a1a" stroke-width="1.2" marker-end="url(#ah)"/>
<line x1="817.1" y1="642" x2="817.1" y2="606" stroke="#000" stroke-width="2.5" marker-end="url(#ah)"/>
<text x="247.2" y="234.8" font-family="Liberation Sans" font-size="15.6" fill="#1c1c1c" text-anchor="middle">Support Government Efforts</text>
<text x="247.0" y="253.5" font-family="Liberation Sans" font-size="15.6" fill="#1c1c1c" text-anchor="middle">at Growth, Development &amp;</text>
<text x="247.3" y="272.0" font-family="Liberation Sans" font-size="15.6" fill="#1c1c1c" text-anchor="middle">modernizing</text>
<text x="455.5" y="226" font-family="Liberation Sans" font-size="14.2" fill="#1c1c1c" text-anchor="middle">Increase attractiveness</text>
<text x="455.5" y="243.5" font-family="Liberation Sans" font-size="14.2" fill="#1c1c1c" text-anchor="middle">of Jeddah for trade &amp;</text>
<text x="455.5" y="261.5" font-family="Liberation Sans" font-size="14.2" fill="#1c1c1c" text-anchor="middle">Investment</text>
<text x="643" y="229.5" font-family="Liberation Sans" font-size="14.2" fill="#1c1c1c" text-anchor="middle">Improve Business</text>
<text x="641.5" y="247.4" font-family="Liberation Sans" font-size="14.2" fill="#1c1c1c" text-anchor="middle">Environment &amp; Quality of</text>
<text x="642" y="264.3" font-family="Liberation Sans" font-size="14.2" fill="#1c1c1c" text-anchor="middle">Life</text>
<text x="212.4" y="380.3" font-family="Liberation Sans" font-size="17" fill="#1c1c1c" text-anchor="middle">Increase</text>
<text x="212.7" y="400.6" font-family="Liberation Sans" font-size="17" fill="#1c1c1c" text-anchor="middle">effectiveness of</text>
<text x="209.7" y="419.8" font-family="Liberation Sans" font-size="17" fill="#1c1c1c" text-anchor="middle">policy analysis</text>
<text x="395.7" y="377.5" font-family="Liberation Sans" font-size="14.1" fill="#1c1c1c" text-anchor="middle">Increase Flow</text>
<text x="389.8" y="394.4" font-family="Liberation Sans" font-size="14.1" fill="#1c1c1c" text-anchor="middle">of Information</text>
<text x="388.4" y="412.7" font-family="Liberation Sans" font-size="14.1" fill="#1c1c1c" text-anchor="middle">&amp; Chances of</text>
<text x="390.0" y="429.3" font-family="Liberation Sans" font-size="14.1" fill="#1c1c1c" text-anchor="middle">Effective Encounters</text>
<text x="566.2" y="373.7" font-family="Liberation Sans" font-size="15.6" fill="#1c1c1c" text-anchor="middle">Increase Range &amp;</text>
<text x="564.0" y="393.1" font-family="Liberation Sans" font-size="15.6" fill="#1c1c1c" text-anchor="middle">effectiveness</text>
<text x="564.6" y="412.4" font-family="Liberation Sans" font-size="15.6" fill="#1c1c1c" text-anchor="middle">of community support</text>
<text x="564.0" y="431.2" font-family="Liberation Sans" font-size="15.6" fill="#1c1c1c" text-anchor="middle">services</text>
<text x="755.5" y="378.6" font-family="Liberation Sans" font-size="17" fill="#1c1c1c" text-anchor="middle">Increase&#160; range</text>
<text x="755.2" y="399.1" font-family="Liberation Sans" font-size="17" fill="#1c1c1c" text-anchor="middle">&amp; effectiveness</text>
<text x="753.0" y="418.6" font-family="Liberation Sans" font-size="17" fill="#1c1c1c" text-anchor="middle">of member Services</text>
<text x="928.5" y="395.7" font-family="Liberation Sans" font-size="17.1" fill="#1c1c1c" text-anchor="middle">Increase Level of</text>
<text x="928.0" y="416.6" font-family="Liberation Sans" font-size="17.1" fill="#1c1c1c" text-anchor="middle">Automation</text>
<text x="304.9" y="527.7" font-family="Liberation Sans" font-size="16.9" fill="#1c1c1c" text-anchor="middle">Build a diverse</text>
<text x="309.0" y="548.7" font-family="Liberation Sans" font-size="16.9" fill="#1c1c1c" text-anchor="middle">talented team</text>
<text x="551.7" y="521.8" font-family="Liberation Sans" font-size="17" fill="#1c1c1c" text-anchor="middle">Enhance technology</text>
<text x="551.6" y="542.2" font-family="Liberation Sans" font-size="17" fill="#1c1c1c" text-anchor="middle">capability and&#160; improve</text>
<text x="551.3" y="561.6" font-family="Liberation Sans" font-size="17" fill="#1c1c1c" text-anchor="middle">alignment</text>
<text x="818.5" y="518.7" font-family="Liberation Sans" font-size="17" fill="#1c1c1c" text-anchor="middle">Build a unified</text>
<text x="818.3" y="539.4" font-family="Liberation Sans" font-size="17" fill="#1c1c1c" text-anchor="middle">culture &amp; climate</text>
<text x="818.3" y="559.3" font-family="Liberation Sans" font-size="17" fill="#1c1c1c" text-anchor="middle">for action</text>
<text x="302.9" y="678.4" font-family="Liberation Sans" font-size="16.9" fill="#1c1c1c" text-anchor="middle">Grow and diversify</text>
<text x="302.9" y="699.2" font-family="Liberation Sans" font-size="16.9" fill="#1c1c1c" text-anchor="middle">revenue base</text>
<text x="553.1" y="684.7" font-family="Liberation Sans" font-size="17" fill="#1c1c1c" text-anchor="middle">Develop&#160; sustainable</text>
<text x="554.8" y="704.8" font-family="Liberation Sans" font-size="17" fill="#1c1c1c" text-anchor="middle">Contribution Program</text>
<text x="817.7" y="675.8" font-family="Liberation Serif" font-size="17.2" fill="#111" text-anchor="middle">Ensure viable fiscal</text>
<text x="817.5" y="696.1" font-family="Liberation Serif" font-size="17.2" fill="#111" text-anchor="middle">position thru financial</text>
<text x="817.9" y="715.7" font-family="Liberation Serif" font-size="17.2" fill="#111" text-anchor="middle">management &amp; cost control</text>
<text x="846.5" y="235.5" font-size="17.2" fill="#1c1c1c" text-anchor="middle"><tspan font-family="Liberation Serif">Improve</tspan><tspan font-family="Liberation Sans"> satisfaction</tspan></text>
<text x="846.7" y="255.5" font-family="Liberation Sans" font-size="16.9" fill="#1c1c1c" text-anchor="middle">of members</text>
<text x="239" y="157.3" font-family="Liberation Sans" font-weight="bold" font-size="16.9" fill="#d23f0c" text-anchor="middle">Government</text>
<text x="465" y="152.6" font-family="Liberation Sans" font-weight="bold" font-size="16.9" fill="#d23f0c" text-anchor="middle">Trading Partners &amp;</text>
<text x="467.5" y="172.8" font-family="Liberation Sans" font-weight="bold" font-size="16.9" fill="#d23f0c" text-anchor="middle">Foreign Investors</text>
<text x="656.3" y="162.3" font-family="Liberation Sans" font-weight="bold" font-size="16.9" fill="#d23f0c" text-anchor="middle">Community</text>
<text x="855.1" y="160.2" font-family="Liberation Sans" font-weight="bold" font-size="16.9" fill="#d23f0c" text-anchor="middle">Members</text>
<text x="71.1" y="243.2" font-family="Liberation Sans" font-weight="bold" font-size="16.9" fill="#d23f0c" text-anchor="middle">Stakeholders</text>
<text x="70.5" y="264" font-family="Liberation Sans" font-weight="bold" font-size="16.9" fill="#d23f0c" text-anchor="middle">Perspective</text>
<text x="67.9" y="389.3" font-family="Liberation Sans" font-weight="bold" font-size="16.9" fill="#d23f0c" text-anchor="middle">Internal</text>
<text x="68" y="409.8" font-family="Liberation Sans" font-weight="bold" font-size="16.9" fill="#d23f0c" text-anchor="middle">Processes</text>
<text x="68" y="429.3" font-family="Liberation Sans" font-weight="bold" font-size="16.9" fill="#d23f0c" text-anchor="middle">Perspective</text>
<text x="71.8" y="519.9" font-family="Liberation Sans" font-weight="bold" font-size="16.9" fill="#d23f0c" text-anchor="middle">Learning &amp;</text>
<text x="72" y="540.4" font-family="Liberation Sans" font-weight="bold" font-size="16.9" fill="#d23f0c" text-anchor="middle">Growth</text>
<text x="71.8" y="560.4" font-family="Liberation Sans" font-weight="bold" font-size="16.9" fill="#d23f0c" text-anchor="middle">Perspective</text>
<text x="67.5" y="672.1" font-family="Liberation Sans" font-weight="bold" font-size="16.9" fill="#d23f0c" text-anchor="middle">Financial</text>
<text x="67.5" y="693" font-family="Liberation Sans" font-weight="bold" font-size="16.9" fill="#d23f0c" text-anchor="middle">Perspective</text>
<line x1="515" y1="3" x2="515" y2="743" stroke="#a8a8a8" stroke-width="1" stroke-dasharray="3 3"/>
<line x1="0" y1="376" x2="1024" y2="376" stroke="#acacac" stroke-width="1" stroke-dasharray="3 3"/>
</svg>
</body></html>
